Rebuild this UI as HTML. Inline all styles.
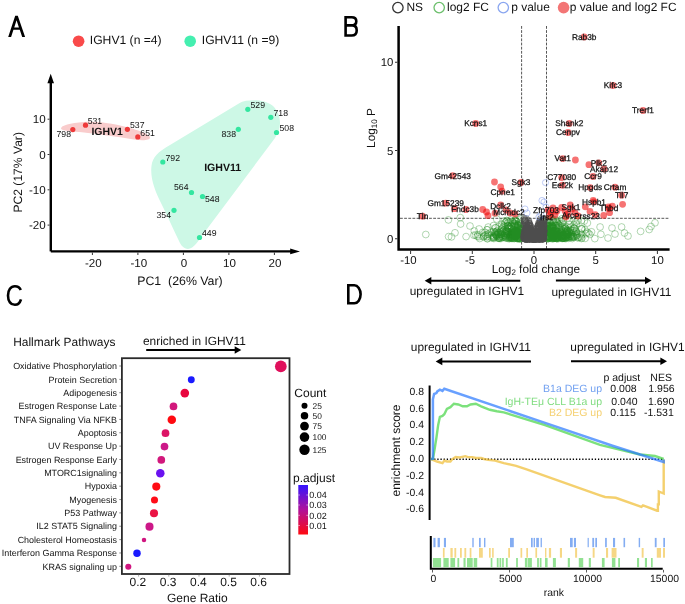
<!DOCTYPE html>
<html><head><meta charset="utf-8"><style>
html,body{margin:0;padding:0;background:#fff;}
svg{display:block;font-family:"Liberation Sans", sans-serif;will-change:transform;text-rendering:geometricPrecision;}
</style></head><body>
<svg width="685" height="604" viewBox="0 0 685 604">
<rect width="685" height="604" fill="#fff"/>
<path d="M8.2 36.9 L15.2 15.8 L17.8 15.8 L25.1 36.9 L22.2 36.9 L19.76 29.85 L13.44 29.85 L11.1 36.9 Z M14.22 27.5 L18.95 27.5 L16.55 20.3 Z" fill="#000" fill-rule="evenodd"/>
<path d="M345.6 17.3 H351.6 C354.9 17.3 356.3 19.1 356.3 21.3 C356.3 23.7 354.6 25.4 351.6 25.4 H345.6 M345.6 25.4 H352.2 C355.3 25.4 356.7 27.6 356.7 30.4 C356.7 33.5 354.8 35.5 351.6 35.5 H345.6 M345.6 16.0 V36.8" fill="none" stroke="#000" stroke-width="2.6"/>
<path d="M20.8 290.0 C19.6 287.4 17.4 286.3 14.9 286.3 C10.8 286.3 8.0 289.9 8.0 295.6 C8.0 301.3 10.8 304.8 14.9 304.8 C17.6 304.8 19.8 303.2 21.0 299.3" fill="none" stroke="#000" stroke-width="2.6"/>
<path d="M348.3 285.3 H354.3 A6.3 9 0 0 1 360.6 294.3 A6.3 9 0 0 1 354.3 303.3 H348.3 Z" fill="none" stroke="#000" stroke-width="2.6"/>
<circle cx="78.60" cy="41.20" r="5.8" fill="#f94a4a" stroke="none" stroke-width="1" />
<text x="89.8" y="44.3" font-size="12.15" text-anchor="start" fill="#111" font-weight="normal" >IGHV1 (n =4)</text>
<circle cx="190.20" cy="41.20" r="5.8" fill="#45efb0" stroke="none" stroke-width="1" />
<text x="201.8" y="44.3" font-size="12.1" text-anchor="start" fill="#111" font-weight="normal" >IGHV11 (n =9)</text>
<path d="M61 128.5 C61 125.5 70 123 84 122 C100 121 118 124.5 132 128.5 C142 131.5 150 134.5 150 137.8 C150 140.5 142 140.8 134 139.5 C118 137 100 134 84 132.5 C72 131.3 61 131 61 128.5 Z" fill="#f9cccc"/>
<path d="M246 100.8 C256 99.5 266 100.5 272.4 105.6 C277 109.5 280 116 280 123 C280 129 277.5 134 275 138 L207 229 C200 238 196 246 190 248.6 C185 250 181 246 179 241 C174 231 168 217 161 203 C155 191 150 178 151.5 166 C152.5 157 158 152 170 145 L238 104 C241 102.3 243.5 101.2 246 100.8 Z" fill="#cdf8e6"/>
<g stroke="#000" stroke-width="2.4" fill="none">
<path d="M50.8 251.4 V80"/><path d="M50.8 251.4 H292"/>
</g>
<path d="M50.7 73.8 L47.4 83.2 L54.0 83.2 Z"/>
<path d="M300 251.4 L290.2 248.5 L290.2 254.3 Z"/>
<line x1="47.6" y1="119.2" x2="49.5" y2="119.2" stroke="#333" stroke-width="1" />
<text x="45.7" y="123.2" font-size="11.6" text-anchor="end" fill="#111" font-weight="normal" >10</text>
<line x1="47.6" y1="154.5" x2="49.5" y2="154.5" stroke="#333" stroke-width="1" />
<text x="45.7" y="158.5" font-size="11.6" text-anchor="end" fill="#111" font-weight="normal" >0</text>
<line x1="47.6" y1="189.8" x2="49.5" y2="189.8" stroke="#333" stroke-width="1" />
<text x="45.7" y="193.8" font-size="11.6" text-anchor="end" fill="#111" font-weight="normal" >-10</text>
<line x1="47.6" y1="225.1" x2="49.5" y2="225.1" stroke="#333" stroke-width="1" />
<text x="45.7" y="229.1" font-size="11.6" text-anchor="end" fill="#111" font-weight="normal" >-20</text>
<line x1="92.4" y1="252.5" x2="92.4" y2="255" stroke="#333" stroke-width="1" />
<text x="93.30000000000001" y="266.6" font-size="11.6" text-anchor="middle" fill="#111" font-weight="normal" >-20</text>
<line x1="137.9" y1="252.5" x2="137.9" y2="255" stroke="#333" stroke-width="1" />
<text x="138.8" y="266.6" font-size="11.6" text-anchor="middle" fill="#111" font-weight="normal" >-10</text>
<line x1="183.4" y1="252.5" x2="183.4" y2="255" stroke="#333" stroke-width="1" />
<text x="183.9" y="266.6" font-size="11.6" text-anchor="middle" fill="#111" font-weight="normal" >0</text>
<line x1="228.9" y1="252.5" x2="228.9" y2="255" stroke="#333" stroke-width="1" />
<text x="229.4" y="266.6" font-size="11.6" text-anchor="middle" fill="#111" font-weight="normal" >10</text>
<line x1="274.4" y1="252.5" x2="274.4" y2="255" stroke="#333" stroke-width="1" />
<text x="274.9" y="266.6" font-size="11.6" text-anchor="middle" fill="#111" font-weight="normal" >20</text>
<text x="137.2" y="285" font-size="12.35" text-anchor="start" fill="#111" font-weight="normal" >PC1&#160; (26% Var)</text>
<text x="22.5" y="172.3" font-size="12.1" text-anchor="middle" fill="#111" font-weight="normal" transform="rotate(-90 22.5 172.3)">PC2 (17% Var)</text>
<circle cx="72.80" cy="129.60" r="2.6" fill="#ee3a3a" stroke="none" stroke-width="1" />
<text x="71" y="136.5" font-size="8.7" text-anchor="end" fill="#111" font-weight="normal" >798</text>
<circle cx="85.50" cy="125.20" r="2.6" fill="#ee3a3a" stroke="none" stroke-width="1" />
<text x="87.7" y="124.3" font-size="8.7" text-anchor="start" fill="#111" font-weight="normal" >531</text>
<circle cx="127.40" cy="129.30" r="2.6" fill="#ee3a3a" stroke="none" stroke-width="1" />
<text x="130" y="128.1" font-size="8.7" text-anchor="start" fill="#111" font-weight="normal" >537</text>
<circle cx="137.80" cy="136.90" r="2.6" fill="#ee3a3a" stroke="none" stroke-width="1" />
<text x="140.3" y="135.70000000000002" font-size="8.7" text-anchor="start" fill="#111" font-weight="normal" >651</text>
<text x="91.4" y="134.7" font-size="10.5" text-anchor="start" fill="#111" font-weight="bold" >IGHV1</text>
<circle cx="247.80" cy="109.30" r="2.6" fill="#33e6a0" stroke="none" stroke-width="1" />
<text x="250.5" y="107.8" font-size="8.7" text-anchor="start" fill="#111" font-weight="normal" >529</text>
<circle cx="270.80" cy="117.30" r="2.6" fill="#33e6a0" stroke="none" stroke-width="1" />
<text x="273.5" y="115.8" font-size="8.7" text-anchor="start" fill="#111" font-weight="normal" >718</text>
<circle cx="276.50" cy="132.50" r="2.6" fill="#33e6a0" stroke="none" stroke-width="1" />
<text x="279.5" y="130.8" font-size="8.7" text-anchor="start" fill="#111" font-weight="normal" >508</text>
<circle cx="238.30" cy="129.30" r="2.6" fill="#33e6a0" stroke="none" stroke-width="1" />
<text x="236" y="137.3" font-size="8.7" text-anchor="end" fill="#111" font-weight="normal" >838</text>
<circle cx="162.80" cy="162.00" r="2.6" fill="#33e6a0" stroke="none" stroke-width="1" />
<text x="165.5" y="160.8" font-size="8.7" text-anchor="start" fill="#111" font-weight="normal" >792</text>
<circle cx="191.50" cy="192.50" r="2.6" fill="#33e6a0" stroke="none" stroke-width="1" />
<text x="188.5" y="190.3" font-size="8.7" text-anchor="end" fill="#111" font-weight="normal" >564</text>
<circle cx="202.50" cy="196.50" r="2.6" fill="#33e6a0" stroke="none" stroke-width="1" />
<text x="205" y="201.8" font-size="8.7" text-anchor="start" fill="#111" font-weight="normal" >548</text>
<circle cx="174.00" cy="210.30" r="2.6" fill="#33e6a0" stroke="none" stroke-width="1" />
<text x="171" y="217.8" font-size="8.7" text-anchor="end" fill="#111" font-weight="normal" >354</text>
<circle cx="199.50" cy="237.50" r="2.6" fill="#33e6a0" stroke="none" stroke-width="1" />
<text x="202" y="235.8" font-size="8.7" text-anchor="start" fill="#111" font-weight="normal" >449</text>
<text x="222.7" y="171" font-size="10.6" text-anchor="middle" fill="#111" font-weight="bold" >IGHV11</text>
<circle cx="397.90" cy="7.60" r="5.2" fill="none" stroke="#333" stroke-width="1.3" />
<text x="406.4" y="10.6" font-size="11.95" text-anchor="start" fill="#111" font-weight="normal" >NS</text>
<circle cx="439.20" cy="7.60" r="5.2" fill="none" stroke="#6cbf6c" stroke-width="1.3" />
<text x="447.0" y="10.6" font-size="11.95" text-anchor="start" fill="#111" font-weight="normal" >log2 FC</text>
<circle cx="503.30" cy="7.60" r="5.2" fill="none" stroke="#8aa6f0" stroke-width="1.3" />
<text x="511.3" y="10.6" font-size="11.95" text-anchor="start" fill="#111" font-weight="normal" >p value</text>
<circle cx="563.60" cy="7.60" r="5.8" fill="#f37575" stroke="none" stroke-width="1" />
<text x="569.7" y="10.6" font-size="11.95" text-anchor="start" fill="#111" font-weight="normal" >p value and log2 FC</text>
<g stroke="#444" stroke-width="0.9" stroke-dasharray="2.8 1.35" fill="none">
<path d="M521.6 26 V249"/><path d="M546.5 26 V249"/><path d="M400 218.3 H669.6"/>
</g>
<g fill="none" stroke="#228b22" stroke-opacity="0.7" stroke-width="0.5">
<circle cx="425.8" cy="234.5" r="3.4"/>
<circle cx="448.4" cy="219.9" r="3.4"/>
<circle cx="460.3" cy="217.6" r="3.4"/>
<circle cx="460.6" cy="224.0" r="3.4"/>
<circle cx="448.6" cy="236.6" r="3.4"/>
<circle cx="451.5" cy="236.9" r="3.4"/>
<circle cx="455.0" cy="232.8" r="3.4"/>
<circle cx="466.1" cy="236.6" r="3.4"/>
<circle cx="474.3" cy="231.0" r="3.4"/>
<circle cx="470.0" cy="226.0" r="3.4"/>
<circle cx="621.6" cy="227.0" r="3.4"/>
<circle cx="624.5" cy="233.0" r="3.4"/>
<circle cx="628.0" cy="236.0" r="3.4"/>
<circle cx="640.6" cy="231.4" r="3.4"/>
<circle cx="649.2" cy="229.5" r="3.4"/>
<circle cx="651.0" cy="226.5" r="3.4"/>
<circle cx="655.0" cy="222.8" r="3.4"/>
<circle cx="612.0" cy="228.0" r="3.4"/>
<circle cx="615.0" cy="234.0" r="3.4"/>
<circle cx="608.0" cy="238.0" r="3.4"/>
<circle cx="547.5" cy="237.2" r="3.4"/>
<circle cx="507.6" cy="225.9" r="3.4"/>
<circle cx="556.3" cy="234.9" r="3.4"/>
<circle cx="518.4" cy="232.6" r="3.4"/>
<circle cx="560.5" cy="232.3" r="3.4"/>
<circle cx="493.9" cy="236.8" r="3.4"/>
<circle cx="562.5" cy="236.8" r="3.4"/>
<circle cx="548.0" cy="231.2" r="3.4"/>
<circle cx="518.5" cy="237.6" r="3.4"/>
<circle cx="564.8" cy="231.8" r="3.4"/>
<circle cx="569.2" cy="231.5" r="3.4"/>
<circle cx="573.8" cy="230.6" r="3.4"/>
<circle cx="562.9" cy="235.7" r="3.4"/>
<circle cx="562.1" cy="218.7" r="3.4"/>
<circle cx="562.1" cy="223.1" r="3.4"/>
<circle cx="559.0" cy="238.0" r="3.4"/>
<circle cx="563.4" cy="235.5" r="3.4"/>
<circle cx="517.2" cy="234.5" r="3.4"/>
<circle cx="502.9" cy="230.8" r="3.4"/>
<circle cx="557.1" cy="237.4" r="3.4"/>
<circle cx="512.8" cy="237.1" r="3.4"/>
<circle cx="552.4" cy="232.3" r="3.4"/>
<circle cx="561.9" cy="235.2" r="3.4"/>
<circle cx="562.3" cy="233.1" r="3.4"/>
<circle cx="508.4" cy="228.4" r="3.4"/>
<circle cx="550.0" cy="226.2" r="3.4"/>
<circle cx="556.3" cy="234.1" r="3.4"/>
<circle cx="497.9" cy="233.7" r="3.4"/>
<circle cx="491.1" cy="232.2" r="3.4"/>
<circle cx="515.1" cy="232.2" r="3.4"/>
<circle cx="491.4" cy="235.3" r="3.4"/>
<circle cx="553.3" cy="238.3" r="3.4"/>
<circle cx="488.2" cy="227.1" r="3.4"/>
<circle cx="504.5" cy="235.5" r="3.4"/>
<circle cx="513.3" cy="230.8" r="3.4"/>
<circle cx="509.9" cy="234.3" r="3.4"/>
<circle cx="565.5" cy="232.2" r="3.4"/>
<circle cx="552.4" cy="234.3" r="3.4"/>
<circle cx="581.8" cy="229.1" r="3.4"/>
<circle cx="504.2" cy="221.0" r="3.4"/>
<circle cx="499.6" cy="236.5" r="3.4"/>
<circle cx="552.5" cy="226.6" r="3.4"/>
<circle cx="491.4" cy="237.8" r="3.4"/>
<circle cx="515.0" cy="224.9" r="3.4"/>
<circle cx="552.8" cy="238.7" r="3.4"/>
<circle cx="552.2" cy="235.3" r="3.4"/>
<circle cx="576.4" cy="223.8" r="3.4"/>
<circle cx="551.6" cy="234.3" r="3.4"/>
<circle cx="516.2" cy="238.3" r="3.4"/>
<circle cx="556.5" cy="238.5" r="3.4"/>
<circle cx="548.9" cy="232.7" r="3.4"/>
<circle cx="588.4" cy="233.1" r="3.4"/>
<circle cx="510.0" cy="236.7" r="3.4"/>
<circle cx="520.3" cy="218.7" r="3.4"/>
<circle cx="580.9" cy="236.8" r="3.4"/>
<circle cx="516.8" cy="233.1" r="3.4"/>
<circle cx="573.2" cy="236.8" r="3.4"/>
<circle cx="561.3" cy="235.4" r="3.4"/>
<circle cx="557.3" cy="237.5" r="3.4"/>
<circle cx="509.1" cy="228.2" r="3.4"/>
<circle cx="555.7" cy="238.0" r="3.4"/>
<circle cx="552.2" cy="227.8" r="3.4"/>
<circle cx="546.9" cy="236.4" r="3.4"/>
<circle cx="514.5" cy="234.6" r="3.4"/>
<circle cx="501.2" cy="229.2" r="3.4"/>
<circle cx="555.6" cy="236.5" r="3.4"/>
<circle cx="514.9" cy="235.6" r="3.4"/>
<circle cx="562.7" cy="235.9" r="3.4"/>
<circle cx="519.8" cy="229.7" r="3.4"/>
<circle cx="586.1" cy="233.6" r="3.4"/>
<circle cx="567.0" cy="232.1" r="3.4"/>
<circle cx="519.7" cy="236.2" r="3.4"/>
<circle cx="569.4" cy="236.3" r="3.4"/>
<circle cx="560.8" cy="236.9" r="3.4"/>
<circle cx="585.1" cy="238.4" r="3.4"/>
<circle cx="495.4" cy="233.3" r="3.4"/>
<circle cx="520.4" cy="231.6" r="3.4"/>
<circle cx="521.5" cy="229.3" r="3.4"/>
<circle cx="517.9" cy="225.3" r="3.4"/>
<circle cx="508.5" cy="222.3" r="3.4"/>
<circle cx="551.3" cy="237.2" r="3.4"/>
<circle cx="567.3" cy="230.5" r="3.4"/>
<circle cx="557.2" cy="225.7" r="3.4"/>
<circle cx="496.8" cy="236.4" r="3.4"/>
<circle cx="518.8" cy="231.1" r="3.4"/>
<circle cx="505.9" cy="231.2" r="3.4"/>
<circle cx="514.5" cy="220.5" r="3.4"/>
<circle cx="559.1" cy="233.7" r="3.4"/>
<circle cx="518.3" cy="224.6" r="3.4"/>
<circle cx="576.3" cy="231.3" r="3.4"/>
<circle cx="554.7" cy="231.8" r="3.4"/>
<circle cx="518.6" cy="237.4" r="3.4"/>
<circle cx="561.7" cy="232.2" r="3.4"/>
<circle cx="562.7" cy="237.9" r="3.4"/>
<circle cx="546.7" cy="228.4" r="3.4"/>
<circle cx="552.5" cy="238.2" r="3.4"/>
<circle cx="500.8" cy="234.1" r="3.4"/>
<circle cx="548.6" cy="226.7" r="3.4"/>
<circle cx="552.8" cy="238.4" r="3.4"/>
<circle cx="579.3" cy="237.4" r="3.4"/>
<circle cx="519.8" cy="233.9" r="3.4"/>
<circle cx="570.6" cy="227.1" r="3.4"/>
<circle cx="550.4" cy="231.7" r="3.4"/>
<circle cx="548.8" cy="230.4" r="3.4"/>
<circle cx="555.3" cy="229.5" r="3.4"/>
<circle cx="552.5" cy="228.3" r="3.4"/>
<circle cx="553.0" cy="219.6" r="3.4"/>
<circle cx="512.3" cy="233.3" r="3.4"/>
<circle cx="501.5" cy="234.5" r="3.4"/>
<circle cx="559.9" cy="225.3" r="3.4"/>
<circle cx="553.5" cy="237.0" r="3.4"/>
<circle cx="548.4" cy="233.2" r="3.4"/>
<circle cx="515.5" cy="236.7" r="3.4"/>
<circle cx="495.2" cy="234.5" r="3.4"/>
<circle cx="563.7" cy="234.8" r="3.4"/>
<circle cx="548.6" cy="235.9" r="3.4"/>
<circle cx="547.6" cy="236.1" r="3.4"/>
<circle cx="495.7" cy="227.7" r="3.4"/>
<circle cx="564.5" cy="236.0" r="3.4"/>
<circle cx="552.8" cy="225.9" r="3.4"/>
<circle cx="487.6" cy="238.6" r="3.4"/>
<circle cx="553.1" cy="238.0" r="3.4"/>
<circle cx="548.2" cy="225.8" r="3.4"/>
<circle cx="521.1" cy="232.3" r="3.4"/>
<circle cx="554.3" cy="236.3" r="3.4"/>
<circle cx="555.0" cy="231.8" r="3.4"/>
<circle cx="556.2" cy="236.1" r="3.4"/>
<circle cx="559.5" cy="227.3" r="3.4"/>
<circle cx="550.8" cy="227.7" r="3.4"/>
<circle cx="516.3" cy="221.0" r="3.4"/>
<circle cx="551.7" cy="235.0" r="3.4"/>
<circle cx="564.1" cy="231.4" r="3.4"/>
<circle cx="555.2" cy="235.6" r="3.4"/>
<circle cx="479.1" cy="229.0" r="3.4"/>
<circle cx="547.2" cy="228.4" r="3.4"/>
<circle cx="507.1" cy="220.9" r="3.4"/>
<circle cx="487.4" cy="236.4" r="3.4"/>
<circle cx="514.6" cy="238.2" r="3.4"/>
<circle cx="519.7" cy="232.7" r="3.4"/>
<circle cx="546.9" cy="235.9" r="3.4"/>
<circle cx="552.4" cy="233.1" r="3.4"/>
<circle cx="550.0" cy="236.3" r="3.4"/>
<circle cx="561.7" cy="237.9" r="3.4"/>
<circle cx="521.7" cy="237.3" r="3.4"/>
<circle cx="553.0" cy="231.0" r="3.4"/>
<circle cx="507.9" cy="228.1" r="3.4"/>
<circle cx="555.3" cy="234.8" r="3.4"/>
<circle cx="554.3" cy="238.3" r="3.4"/>
<circle cx="505.3" cy="233.2" r="3.4"/>
<circle cx="548.7" cy="238.5" r="3.4"/>
<circle cx="507.9" cy="231.4" r="3.4"/>
<circle cx="571.3" cy="236.1" r="3.4"/>
<circle cx="555.5" cy="225.7" r="3.4"/>
<circle cx="513.0" cy="234.1" r="3.4"/>
<circle cx="512.4" cy="234.0" r="3.4"/>
<circle cx="574.1" cy="220.1" r="3.4"/>
<circle cx="499.1" cy="238.4" r="3.4"/>
<circle cx="566.0" cy="237.5" r="3.4"/>
<circle cx="515.5" cy="234.8" r="3.4"/>
<circle cx="548.5" cy="228.7" r="3.4"/>
<circle cx="513.2" cy="236.3" r="3.4"/>
<circle cx="502.7" cy="231.7" r="3.4"/>
<circle cx="514.3" cy="223.1" r="3.4"/>
<circle cx="551.2" cy="219.6" r="3.4"/>
<circle cx="520.7" cy="228.3" r="3.4"/>
<circle cx="565.6" cy="228.5" r="3.4"/>
<circle cx="573.2" cy="237.2" r="3.4"/>
<circle cx="515.9" cy="231.4" r="3.4"/>
<circle cx="516.6" cy="234.7" r="3.4"/>
<circle cx="569.0" cy="232.0" r="3.4"/>
<circle cx="550.3" cy="235.3" r="3.4"/>
<circle cx="557.3" cy="237.6" r="3.4"/>
<circle cx="561.0" cy="237.7" r="3.4"/>
<circle cx="554.2" cy="233.4" r="3.4"/>
<circle cx="509.5" cy="237.2" r="3.4"/>
<circle cx="563.1" cy="238.3" r="3.4"/>
<circle cx="501.5" cy="236.2" r="3.4"/>
<circle cx="495.5" cy="234.4" r="3.4"/>
<circle cx="517.9" cy="227.6" r="3.4"/>
<circle cx="551.2" cy="226.2" r="3.4"/>
<circle cx="556.3" cy="231.4" r="3.4"/>
<circle cx="500.1" cy="233.9" r="3.4"/>
<circle cx="504.9" cy="223.1" r="3.4"/>
<circle cx="511.0" cy="236.4" r="3.4"/>
<circle cx="556.4" cy="236.9" r="3.4"/>
<circle cx="513.2" cy="229.9" r="3.4"/>
<circle cx="564.4" cy="238.3" r="3.4"/>
<circle cx="551.1" cy="227.2" r="3.4"/>
<circle cx="510.1" cy="234.6" r="3.4"/>
<circle cx="519.9" cy="222.6" r="3.4"/>
<circle cx="570.1" cy="235.8" r="3.4"/>
<circle cx="510.7" cy="226.0" r="3.4"/>
<circle cx="508.5" cy="231.8" r="3.4"/>
<circle cx="555.3" cy="224.5" r="3.4"/>
<circle cx="573.3" cy="236.2" r="3.4"/>
<circle cx="565.3" cy="232.8" r="3.4"/>
<circle cx="547.9" cy="238.6" r="3.4"/>
<circle cx="547.1" cy="231.4" r="3.4"/>
<circle cx="552.7" cy="235.9" r="3.4"/>
<circle cx="557.7" cy="236.5" r="3.4"/>
<circle cx="513.5" cy="236.1" r="3.4"/>
<circle cx="548.5" cy="238.0" r="3.4"/>
<circle cx="546.8" cy="232.9" r="3.4"/>
<circle cx="575.5" cy="234.0" r="3.4"/>
<circle cx="513.7" cy="238.2" r="3.4"/>
<circle cx="504.0" cy="230.1" r="3.4"/>
<circle cx="584.3" cy="221.1" r="3.4"/>
<circle cx="557.4" cy="222.9" r="3.4"/>
<circle cx="520.7" cy="238.5" r="3.4"/>
<circle cx="552.2" cy="226.4" r="3.4"/>
<circle cx="558.1" cy="238.7" r="3.4"/>
<circle cx="547.5" cy="238.7" r="3.4"/>
<circle cx="586.9" cy="232.1" r="3.4"/>
<circle cx="548.1" cy="227.0" r="3.4"/>
<circle cx="498.4" cy="234.3" r="3.4"/>
<circle cx="547.3" cy="225.9" r="3.4"/>
<circle cx="576.7" cy="234.2" r="3.4"/>
<circle cx="565.3" cy="228.0" r="3.4"/>
<circle cx="581.4" cy="238.5" r="3.4"/>
<circle cx="520.3" cy="234.4" r="3.4"/>
<circle cx="512.5" cy="224.1" r="3.4"/>
<circle cx="557.1" cy="234.7" r="3.4"/>
<circle cx="520.9" cy="235.9" r="3.4"/>
<circle cx="516.0" cy="236.7" r="3.4"/>
<circle cx="564.6" cy="226.8" r="3.4"/>
<circle cx="502.8" cy="237.0" r="3.4"/>
<circle cx="520.5" cy="238.7" r="3.4"/>
<circle cx="552.5" cy="232.6" r="3.4"/>
<circle cx="518.4" cy="232.0" r="3.4"/>
<circle cx="548.0" cy="220.0" r="3.4"/>
<circle cx="518.4" cy="237.7" r="3.4"/>
<circle cx="483.9" cy="236.6" r="3.4"/>
<circle cx="557.5" cy="234.1" r="3.4"/>
<circle cx="521.0" cy="235.9" r="3.4"/>
<circle cx="510.8" cy="235.3" r="3.4"/>
<circle cx="486.9" cy="237.0" r="3.4"/>
<circle cx="493.4" cy="237.3" r="3.4"/>
<circle cx="584.9" cy="229.9" r="3.4"/>
<circle cx="511.6" cy="236.6" r="3.4"/>
<circle cx="555.5" cy="230.3" r="3.4"/>
<circle cx="566.4" cy="230.0" r="3.4"/>
<circle cx="506.4" cy="232.5" r="3.4"/>
<circle cx="551.3" cy="233.4" r="3.4"/>
<circle cx="505.8" cy="229.1" r="3.4"/>
<circle cx="515.4" cy="236.4" r="3.4"/>
<circle cx="511.3" cy="232.4" r="3.4"/>
<circle cx="517.4" cy="238.5" r="3.4"/>
<circle cx="517.6" cy="230.8" r="3.4"/>
<circle cx="517.1" cy="230.8" r="3.4"/>
<circle cx="547.3" cy="226.9" r="3.4"/>
<circle cx="566.6" cy="234.2" r="3.4"/>
<circle cx="559.1" cy="236.4" r="3.4"/>
<circle cx="507.6" cy="223.1" r="3.4"/>
<circle cx="574.1" cy="227.8" r="3.4"/>
<circle cx="551.3" cy="236.2" r="3.4"/>
<circle cx="511.8" cy="232.0" r="3.4"/>
<circle cx="564.5" cy="238.1" r="3.4"/>
<circle cx="498.3" cy="232.8" r="3.4"/>
<circle cx="521.1" cy="236.3" r="3.4"/>
<circle cx="547.1" cy="225.7" r="3.4"/>
<circle cx="493.6" cy="231.7" r="3.4"/>
<circle cx="566.0" cy="237.3" r="3.4"/>
<circle cx="512.5" cy="234.7" r="3.4"/>
<circle cx="509.5" cy="222.9" r="3.4"/>
<circle cx="569.6" cy="237.6" r="3.4"/>
<circle cx="553.5" cy="222.1" r="3.4"/>
<circle cx="499.5" cy="238.1" r="3.4"/>
<circle cx="563.3" cy="220.3" r="3.4"/>
<circle cx="519.8" cy="229.0" r="3.4"/>
<circle cx="549.9" cy="230.0" r="3.4"/>
<circle cx="562.9" cy="228.3" r="3.4"/>
<circle cx="511.3" cy="237.5" r="3.4"/>
<circle cx="572.3" cy="230.4" r="3.4"/>
<circle cx="568.2" cy="234.8" r="3.4"/>
<circle cx="557.3" cy="228.4" r="3.4"/>
<circle cx="600.1" cy="227.0" r="3.4"/>
<circle cx="548.3" cy="234.1" r="3.4"/>
<circle cx="552.5" cy="233.9" r="3.4"/>
<circle cx="558.3" cy="223.6" r="3.4"/>
<circle cx="513.9" cy="232.5" r="3.4"/>
<circle cx="514.8" cy="236.4" r="3.4"/>
<circle cx="561.7" cy="231.1" r="3.4"/>
<circle cx="576.8" cy="235.8" r="3.4"/>
<circle cx="553.8" cy="233.4" r="3.4"/>
<circle cx="506.9" cy="230.6" r="3.4"/>
<circle cx="557.1" cy="233.5" r="3.4"/>
<circle cx="554.7" cy="235.8" r="3.4"/>
<circle cx="484.0" cy="235.7" r="3.4"/>
<circle cx="553.5" cy="228.3" r="3.4"/>
<circle cx="519.7" cy="234.1" r="3.4"/>
<circle cx="565.0" cy="236.2" r="3.4"/>
<circle cx="567.9" cy="233.9" r="3.4"/>
<circle cx="512.2" cy="222.0" r="3.4"/>
<circle cx="567.6" cy="230.9" r="3.4"/>
<circle cx="520.3" cy="227.4" r="3.4"/>
<circle cx="549.8" cy="229.0" r="3.4"/>
<circle cx="572.3" cy="238.5" r="3.4"/>
<circle cx="517.7" cy="234.8" r="3.4"/>
<circle cx="516.0" cy="233.2" r="3.4"/>
<circle cx="521.0" cy="230.5" r="3.4"/>
<circle cx="600.9" cy="234.3" r="3.4"/>
<circle cx="548.8" cy="228.1" r="3.4"/>
<circle cx="556.0" cy="234.2" r="3.4"/>
<circle cx="554.1" cy="237.4" r="3.4"/>
<circle cx="506.0" cy="238.0" r="3.4"/>
<circle cx="555.8" cy="237.1" r="3.4"/>
<circle cx="516.1" cy="226.8" r="3.4"/>
<circle cx="509.7" cy="236.2" r="3.4"/>
<circle cx="547.1" cy="225.5" r="3.4"/>
<circle cx="501.6" cy="237.6" r="3.4"/>
<circle cx="567.0" cy="218.8" r="3.4"/>
<circle cx="493.9" cy="238.5" r="3.4"/>
<circle cx="518.1" cy="232.0" r="3.4"/>
<circle cx="555.5" cy="237.7" r="3.4"/>
<circle cx="516.3" cy="232.5" r="3.4"/>
<circle cx="553.8" cy="237.5" r="3.4"/>
<circle cx="553.7" cy="237.9" r="3.4"/>
<circle cx="516.0" cy="225.5" r="3.4"/>
<circle cx="556.3" cy="238.3" r="3.4"/>
<circle cx="557.2" cy="231.5" r="3.4"/>
<circle cx="493.2" cy="237.8" r="3.4"/>
<circle cx="559.9" cy="234.1" r="3.4"/>
<circle cx="506.1" cy="234.0" r="3.4"/>
<circle cx="546.4" cy="223.7" r="3.4"/>
<circle cx="500.1" cy="237.2" r="3.4"/>
<circle cx="507.9" cy="238.3" r="3.4"/>
<circle cx="501.2" cy="234.0" r="3.4"/>
<circle cx="548.8" cy="237.7" r="3.4"/>
<circle cx="550.8" cy="232.8" r="3.4"/>
<circle cx="496.9" cy="231.3" r="3.4"/>
<circle cx="487.3" cy="234.3" r="3.4"/>
<circle cx="567.7" cy="236.1" r="3.4"/>
<circle cx="518.6" cy="233.0" r="3.4"/>
<circle cx="550.9" cy="234.8" r="3.4"/>
<circle cx="512.6" cy="238.3" r="3.4"/>
<circle cx="507.2" cy="234.2" r="3.4"/>
<circle cx="521.0" cy="232.9" r="3.4"/>
<circle cx="547.5" cy="236.4" r="3.4"/>
<circle cx="509.0" cy="238.7" r="3.4"/>
<circle cx="487.2" cy="238.7" r="3.4"/>
<circle cx="565.1" cy="230.8" r="3.4"/>
<circle cx="554.0" cy="230.7" r="3.4"/>
<circle cx="521.6" cy="230.5" r="3.4"/>
<circle cx="547.4" cy="230.9" r="3.4"/>
<circle cx="557.2" cy="232.3" r="3.4"/>
<circle cx="547.7" cy="236.0" r="3.4"/>
<circle cx="512.2" cy="221.4" r="3.4"/>
<circle cx="519.5" cy="228.7" r="3.4"/>
<circle cx="587.4" cy="223.0" r="3.4"/>
<circle cx="565.8" cy="235.2" r="3.4"/>
<circle cx="517.6" cy="225.0" r="3.4"/>
<circle cx="570.4" cy="229.7" r="3.4"/>
<circle cx="568.4" cy="238.3" r="3.4"/>
<circle cx="546.8" cy="230.1" r="3.4"/>
<circle cx="487.2" cy="229.8" r="3.4"/>
<circle cx="518.1" cy="238.6" r="3.4"/>
<circle cx="567.1" cy="231.1" r="3.4"/>
<circle cx="519.5" cy="238.7" r="3.4"/>
<circle cx="511.6" cy="228.7" r="3.4"/>
<circle cx="581.9" cy="238.1" r="3.4"/>
<circle cx="511.2" cy="226.5" r="3.4"/>
<circle cx="517.1" cy="233.7" r="3.4"/>
<circle cx="550.3" cy="237.6" r="3.4"/>
<circle cx="519.0" cy="238.1" r="3.4"/>
<circle cx="565.8" cy="237.7" r="3.4"/>
<circle cx="550.1" cy="231.7" r="3.4"/>
<circle cx="506.4" cy="237.7" r="3.4"/>
<circle cx="546.6" cy="231.5" r="3.4"/>
<circle cx="547.1" cy="234.0" r="3.4"/>
<circle cx="493.8" cy="237.6" r="3.4"/>
<circle cx="551.1" cy="238.5" r="3.4"/>
<circle cx="516.6" cy="233.8" r="3.4"/>
<circle cx="556.5" cy="232.7" r="3.4"/>
<circle cx="514.1" cy="225.4" r="3.4"/>
<circle cx="562.1" cy="237.1" r="3.4"/>
<circle cx="555.8" cy="231.0" r="3.4"/>
<circle cx="553.0" cy="237.2" r="3.4"/>
<circle cx="517.1" cy="232.3" r="3.4"/>
<circle cx="557.4" cy="234.4" r="3.4"/>
<circle cx="496.9" cy="234.8" r="3.4"/>
<circle cx="515.3" cy="231.0" r="3.4"/>
<circle cx="473.8" cy="235.2" r="3.4"/>
<circle cx="519.1" cy="236.1" r="3.4"/>
<circle cx="506.0" cy="236.1" r="3.4"/>
<circle cx="571.1" cy="234.6" r="3.4"/>
<circle cx="549.8" cy="227.6" r="3.4"/>
<circle cx="506.7" cy="231.5" r="3.4"/>
<circle cx="580.8" cy="233.4" r="3.4"/>
<circle cx="518.4" cy="226.4" r="3.4"/>
<circle cx="548.8" cy="222.2" r="3.4"/>
<circle cx="566.6" cy="231.3" r="3.4"/>
<circle cx="515.6" cy="237.3" r="3.4"/>
<circle cx="569.0" cy="224.3" r="3.4"/>
<circle cx="564.9" cy="236.6" r="3.4"/>
<circle cx="555.8" cy="236.8" r="3.4"/>
<circle cx="505.1" cy="237.6" r="3.4"/>
<circle cx="563.3" cy="234.8" r="3.4"/>
<circle cx="516.4" cy="221.5" r="3.4"/>
<circle cx="517.2" cy="236.2" r="3.4"/>
<circle cx="560.6" cy="236.2" r="3.4"/>
<circle cx="549.9" cy="237.5" r="3.4"/>
<circle cx="516.8" cy="235.8" r="3.4"/>
<circle cx="559.4" cy="220.5" r="3.4"/>
<circle cx="556.9" cy="221.7" r="3.4"/>
<circle cx="570.1" cy="230.5" r="3.4"/>
<circle cx="500.2" cy="232.0" r="3.4"/>
<circle cx="508.0" cy="225.6" r="3.4"/>
<circle cx="493.1" cy="236.1" r="3.4"/>
<circle cx="581.8" cy="234.8" r="3.4"/>
<circle cx="551.0" cy="225.1" r="3.4"/>
<circle cx="557.6" cy="234.7" r="3.4"/>
<circle cx="482.6" cy="232.5" r="3.4"/>
<circle cx="515.7" cy="236.4" r="3.4"/>
<circle cx="563.4" cy="238.1" r="3.4"/>
<circle cx="552.5" cy="220.6" r="3.4"/>
<circle cx="563.6" cy="238.1" r="3.4"/>
<circle cx="517.2" cy="225.2" r="3.4"/>
<circle cx="495.0" cy="232.3" r="3.4"/>
<circle cx="557.4" cy="236.9" r="3.4"/>
<circle cx="514.1" cy="232.7" r="3.4"/>
<circle cx="565.9" cy="234.0" r="3.4"/>
<circle cx="552.6" cy="228.1" r="3.4"/>
<circle cx="565.8" cy="238.6" r="3.4"/>
<circle cx="494.8" cy="232.8" r="3.4"/>
<circle cx="506.3" cy="230.4" r="3.4"/>
<circle cx="516.3" cy="230.4" r="3.4"/>
<circle cx="479.7" cy="238.5" r="3.4"/>
<circle cx="562.1" cy="238.5" r="3.4"/>
<circle cx="573.8" cy="228.5" r="3.4"/>
<circle cx="505.8" cy="226.3" r="3.4"/>
<circle cx="549.9" cy="222.9" r="3.4"/>
<circle cx="517.7" cy="235.0" r="3.4"/>
<circle cx="570.9" cy="236.1" r="3.4"/>
<circle cx="511.3" cy="235.1" r="3.4"/>
<circle cx="520.5" cy="228.8" r="3.4"/>
<circle cx="518.8" cy="219.9" r="3.4"/>
<circle cx="558.7" cy="225.2" r="3.4"/>
<circle cx="547.8" cy="229.4" r="3.4"/>
<circle cx="560.2" cy="236.2" r="3.4"/>
<circle cx="552.2" cy="235.2" r="3.4"/>
<circle cx="502.0" cy="225.0" r="3.4"/>
<circle cx="517.9" cy="236.6" r="3.4"/>
<circle cx="477.8" cy="234.7" r="3.4"/>
<circle cx="567.5" cy="234.9" r="3.4"/>
<circle cx="589.8" cy="234.4" r="3.4"/>
<circle cx="499.1" cy="237.5" r="3.4"/>
<circle cx="497.5" cy="235.1" r="3.4"/>
<circle cx="513.6" cy="235.8" r="3.4"/>
<circle cx="504.4" cy="233.0" r="3.4"/>
<circle cx="514.3" cy="223.7" r="3.4"/>
<circle cx="559.3" cy="234.5" r="3.4"/>
<circle cx="577.9" cy="237.4" r="3.4"/>
<circle cx="553.1" cy="236.7" r="3.4"/>
<circle cx="496.0" cy="235.1" r="3.4"/>
<circle cx="483.2" cy="236.9" r="3.4"/>
<circle cx="555.4" cy="219.9" r="3.4"/>
<circle cx="558.5" cy="227.3" r="3.4"/>
<circle cx="556.6" cy="234.6" r="3.4"/>
<circle cx="546.4" cy="235.0" r="3.4"/>
<circle cx="551.6" cy="237.0" r="3.4"/>
<circle cx="552.9" cy="231.9" r="3.4"/>
<circle cx="552.4" cy="231.3" r="3.4"/>
<circle cx="547.4" cy="238.0" r="3.4"/>
<circle cx="568.0" cy="232.6" r="3.4"/>
<circle cx="550.4" cy="231.3" r="3.4"/>
<circle cx="505.6" cy="222.2" r="3.4"/>
<circle cx="512.2" cy="238.3" r="3.4"/>
<circle cx="519.2" cy="238.6" r="3.4"/>
<circle cx="572.0" cy="232.6" r="3.4"/>
<circle cx="520.1" cy="237.0" r="3.4"/>
<circle cx="514.2" cy="238.6" r="3.4"/>
<circle cx="563.9" cy="234.7" r="3.4"/>
<circle cx="504.2" cy="235.4" r="3.4"/>
<circle cx="506.2" cy="231.1" r="3.4"/>
<circle cx="569.1" cy="234.0" r="3.4"/>
<circle cx="510.8" cy="235.2" r="3.4"/>
<circle cx="560.9" cy="237.2" r="3.4"/>
<circle cx="498.4" cy="232.5" r="3.4"/>
<circle cx="551.7" cy="237.1" r="3.4"/>
<circle cx="518.4" cy="231.0" r="3.4"/>
<circle cx="562.7" cy="235.8" r="3.4"/>
<circle cx="577.8" cy="237.9" r="3.4"/>
<circle cx="515.6" cy="231.5" r="3.4"/>
<circle cx="485.2" cy="232.4" r="3.4"/>
<circle cx="516.9" cy="231.2" r="3.4"/>
<circle cx="517.7" cy="237.9" r="3.4"/>
<circle cx="516.3" cy="232.7" r="3.4"/>
<circle cx="556.9" cy="238.0" r="3.4"/>
<circle cx="519.0" cy="223.2" r="3.4"/>
<circle cx="511.2" cy="231.6" r="3.4"/>
<circle cx="557.6" cy="232.9" r="3.4"/>
<circle cx="574.1" cy="232.6" r="3.4"/>
<circle cx="574.0" cy="224.4" r="3.4"/>
<circle cx="581.8" cy="228.6" r="3.4"/>
<circle cx="501.4" cy="224.1" r="3.4"/>
<circle cx="521.2" cy="223.9" r="3.4"/>
<circle cx="559.6" cy="235.0" r="3.4"/>
<circle cx="562.3" cy="238.2" r="3.4"/>
<circle cx="521.2" cy="229.0" r="3.4"/>
<circle cx="581.4" cy="220.7" r="3.4"/>
<circle cx="572.9" cy="235.5" r="3.4"/>
<circle cx="547.0" cy="226.2" r="3.4"/>
<circle cx="558.9" cy="225.2" r="3.4"/>
<circle cx="506.7" cy="220.5" r="3.4"/>
<circle cx="487.1" cy="229.8" r="3.4"/>
<circle cx="512.2" cy="232.8" r="3.4"/>
<circle cx="518.9" cy="238.5" r="3.4"/>
<circle cx="547.4" cy="237.2" r="3.4"/>
<circle cx="519.1" cy="229.4" r="3.4"/>
<circle cx="501.2" cy="232.3" r="3.4"/>
<circle cx="549.8" cy="236.9" r="3.4"/>
<circle cx="507.7" cy="235.2" r="3.4"/>
<circle cx="576.7" cy="235.7" r="3.4"/>
<circle cx="493.5" cy="225.6" r="3.4"/>
<circle cx="496.3" cy="235.2" r="3.4"/>
<circle cx="559.8" cy="232.8" r="3.4"/>
<circle cx="576.0" cy="232.0" r="3.4"/>
<circle cx="498.8" cy="236.2" r="3.4"/>
<circle cx="561.0" cy="236.3" r="3.4"/>
<circle cx="553.2" cy="232.1" r="3.4"/>
<circle cx="563.3" cy="234.0" r="3.4"/>
<circle cx="520.8" cy="233.1" r="3.4"/>
<circle cx="504.0" cy="226.1" r="3.4"/>
<circle cx="547.4" cy="231.6" r="3.4"/>
<circle cx="494.5" cy="236.2" r="3.4"/>
<circle cx="515.0" cy="232.1" r="3.4"/>
<circle cx="547.7" cy="238.2" r="3.4"/>
<circle cx="568.2" cy="237.3" r="3.4"/>
<circle cx="517.7" cy="227.5" r="3.4"/>
<circle cx="515.3" cy="225.9" r="3.4"/>
<circle cx="513.8" cy="233.4" r="3.4"/>
<circle cx="507.0" cy="233.8" r="3.4"/>
<circle cx="549.2" cy="219.4" r="3.4"/>
<circle cx="567.0" cy="233.7" r="3.4"/>
<circle cx="549.8" cy="231.2" r="3.4"/>
<circle cx="550.4" cy="226.7" r="3.4"/>
<circle cx="508.4" cy="228.7" r="3.4"/>
<circle cx="551.9" cy="230.3" r="3.4"/>
<circle cx="566.6" cy="237.5" r="3.4"/>
<circle cx="557.0" cy="238.6" r="3.4"/>
<circle cx="553.3" cy="233.2" r="3.4"/>
<circle cx="576.2" cy="221.9" r="3.4"/>
<circle cx="567.0" cy="232.9" r="3.4"/>
<circle cx="547.4" cy="236.5" r="3.4"/>
<circle cx="546.6" cy="221.0" r="3.4"/>
<circle cx="511.8" cy="234.3" r="3.4"/>
<circle cx="546.6" cy="224.9" r="3.4"/>
<circle cx="511.3" cy="234.7" r="3.4"/>
<circle cx="512.1" cy="235.4" r="3.4"/>
<circle cx="518.2" cy="235.6" r="3.4"/>
<circle cx="518.4" cy="225.7" r="3.4"/>
<circle cx="510.5" cy="220.1" r="3.4"/>
<circle cx="571.5" cy="234.2" r="3.4"/>
<circle cx="517.1" cy="235.6" r="3.4"/>
<circle cx="502.8" cy="227.4" r="3.4"/>
<circle cx="564.0" cy="229.0" r="3.4"/>
<circle cx="505.1" cy="236.5" r="3.4"/>
<circle cx="546.5" cy="225.8" r="3.4"/>
<circle cx="475.4" cy="235.1" r="3.4"/>
<circle cx="519.3" cy="227.8" r="3.4"/>
<circle cx="556.3" cy="225.9" r="3.4"/>
<circle cx="563.7" cy="236.5" r="3.4"/>
<circle cx="478.8" cy="236.8" r="3.4"/>
<circle cx="560.6" cy="223.6" r="3.4"/>
<circle cx="515.6" cy="230.9" r="3.4"/>
<circle cx="498.5" cy="226.6" r="3.4"/>
<circle cx="519.5" cy="228.0" r="3.4"/>
<circle cx="558.6" cy="235.3" r="3.4"/>
<circle cx="562.4" cy="227.3" r="3.4"/>
<circle cx="550.5" cy="231.4" r="3.4"/>
<circle cx="509.1" cy="237.1" r="3.4"/>
<circle cx="501.8" cy="229.1" r="3.4"/>
<circle cx="501.6" cy="235.7" r="3.4"/>
<circle cx="512.8" cy="237.4" r="3.4"/>
<circle cx="515.1" cy="232.1" r="3.4"/>
<circle cx="485.5" cy="234.9" r="3.4"/>
<circle cx="511.4" cy="226.2" r="3.4"/>
<circle cx="550.2" cy="228.4" r="3.4"/>
<circle cx="519.1" cy="234.5" r="3.4"/>
<circle cx="496.3" cy="235.9" r="3.4"/>
<circle cx="517.1" cy="238.5" r="3.4"/>
<circle cx="554.8" cy="234.6" r="3.4"/>
<circle cx="574.6" cy="236.2" r="3.4"/>
<circle cx="567.0" cy="226.9" r="3.4"/>
<circle cx="553.7" cy="236.0" r="3.4"/>
<circle cx="500.8" cy="238.5" r="3.4"/>
<circle cx="551.9" cy="236.7" r="3.4"/>
<circle cx="495.2" cy="228.0" r="3.4"/>
<circle cx="515.4" cy="220.2" r="3.4"/>
<circle cx="558.0" cy="235.4" r="3.4"/>
<circle cx="497.1" cy="231.3" r="3.4"/>
<circle cx="548.1" cy="230.5" r="3.4"/>
<circle cx="549.3" cy="236.5" r="3.4"/>
<circle cx="553.2" cy="233.6" r="3.4"/>
<circle cx="551.0" cy="228.8" r="3.4"/>
<circle cx="551.8" cy="227.9" r="3.4"/>
<circle cx="577.7" cy="220.6" r="3.4"/>
<circle cx="554.3" cy="236.5" r="3.4"/>
<circle cx="548.6" cy="231.0" r="3.4"/>
<circle cx="511.3" cy="237.9" r="3.4"/>
<circle cx="499.2" cy="238.2" r="3.4"/>
<circle cx="508.7" cy="237.8" r="3.4"/>
<circle cx="567.1" cy="237.0" r="3.4"/>
<circle cx="565.7" cy="228.3" r="3.4"/>
<circle cx="555.8" cy="235.7" r="3.4"/>
<circle cx="515.2" cy="234.8" r="3.4"/>
<circle cx="552.0" cy="236.1" r="3.4"/>
<circle cx="552.5" cy="230.8" r="3.4"/>
<circle cx="547.8" cy="232.4" r="3.4"/>
<circle cx="514.0" cy="235.5" r="3.4"/>
<circle cx="561.4" cy="230.1" r="3.4"/>
<circle cx="510.4" cy="229.2" r="3.4"/>
<circle cx="510.2" cy="234.0" r="3.4"/>
<circle cx="514.3" cy="233.2" r="3.4"/>
<circle cx="550.3" cy="232.1" r="3.4"/>
<circle cx="496.7" cy="219.1" r="3.4"/>
<circle cx="505.2" cy="235.8" r="3.4"/>
<circle cx="549.7" cy="222.8" r="3.4"/>
<circle cx="574.6" cy="228.6" r="3.4"/>
<circle cx="521.2" cy="233.4" r="3.4"/>
<circle cx="500.7" cy="234.3" r="3.4"/>
<circle cx="591.5" cy="231.8" r="3.4"/>
<circle cx="515.5" cy="221.3" r="3.4"/>
<circle cx="594.8" cy="238.6" r="3.4"/>
<circle cx="565.2" cy="237.3" r="3.4"/>
<circle cx="510.3" cy="237.7" r="3.4"/>
<circle cx="553.7" cy="231.5" r="3.4"/>
<circle cx="555.4" cy="226.1" r="3.4"/>
<circle cx="510.1" cy="237.1" r="3.4"/>
<circle cx="518.4" cy="233.2" r="3.4"/>
<circle cx="560.2" cy="236.6" r="3.4"/>
<circle cx="515.0" cy="233.5" r="3.4"/>
<circle cx="515.2" cy="231.1" r="3.4"/>
<circle cx="565.0" cy="236.6" r="3.4"/>
<circle cx="566.8" cy="235.2" r="3.4"/>
<circle cx="521.2" cy="223.9" r="3.4"/>
<circle cx="498.1" cy="238.2" r="3.4"/>
<circle cx="571.7" cy="237.4" r="3.4"/>
<circle cx="554.9" cy="235.3" r="3.4"/>
<circle cx="574.4" cy="237.0" r="3.4"/>
<circle cx="511.6" cy="238.4" r="3.4"/>
<circle cx="514.4" cy="223.4" r="3.4"/>
<circle cx="568.2" cy="236.9" r="3.4"/>
<circle cx="477.3" cy="236.3" r="3.4"/>
<circle cx="581.4" cy="228.8" r="3.4"/>
<circle cx="546.7" cy="236.4" r="3.4"/>
<circle cx="574.4" cy="228.1" r="3.4"/>
<circle cx="565.9" cy="230.0" r="3.4"/>
<circle cx="508.5" cy="232.7" r="3.4"/>
<circle cx="557.0" cy="238.2" r="3.4"/>
<circle cx="512.8" cy="232.1" r="3.4"/>
<circle cx="554.7" cy="235.2" r="3.4"/>
<circle cx="557.2" cy="237.0" r="3.4"/>
<circle cx="508.6" cy="225.9" r="3.4"/>
<circle cx="519.4" cy="236.9" r="3.4"/>
<circle cx="556.5" cy="222.4" r="3.4"/>
<circle cx="507.9" cy="226.1" r="3.4"/>
<circle cx="509.6" cy="227.4" r="3.4"/>
<circle cx="572.2" cy="237.3" r="3.4"/>
<circle cx="546.9" cy="237.2" r="3.4"/>
<circle cx="549.1" cy="238.0" r="3.4"/>
<circle cx="519.2" cy="238.3" r="3.4"/>
<circle cx="509.9" cy="238.4" r="3.4"/>
<circle cx="547.5" cy="236.9" r="3.4"/>
<circle cx="547.1" cy="234.6" r="3.4"/>
<circle cx="557.3" cy="237.3" r="3.4"/>
<circle cx="510.6" cy="234.4" r="3.4"/>
<circle cx="555.9" cy="234.4" r="3.4"/>
<circle cx="515.4" cy="231.9" r="3.4"/>
<circle cx="508.8" cy="234.6" r="3.4"/>
<circle cx="556.7" cy="227.9" r="3.4"/>
<circle cx="551.6" cy="226.5" r="3.4"/>
<circle cx="553.9" cy="221.8" r="3.4"/>
<circle cx="569.2" cy="221.0" r="3.4"/>
<circle cx="512.9" cy="222.6" r="3.4"/>
<circle cx="503.4" cy="237.4" r="3.4"/>
<circle cx="488.5" cy="234.2" r="3.4"/>
<circle cx="521.3" cy="235.3" r="3.4"/>
<circle cx="547.8" cy="236.1" r="3.4"/>
<circle cx="511.9" cy="236.9" r="3.4"/>
</g>
<g fill="none" stroke="#4d4d4d" stroke-width="0.6">
<circle cx="533.1" cy="237.4" r="3.4"/>
<circle cx="542.4" cy="235.0" r="3.4"/>
<circle cx="534.2" cy="238.0" r="3.4"/>
<circle cx="527.8" cy="234.2" r="3.4"/>
<circle cx="536.6" cy="233.1" r="3.4"/>
<circle cx="526.0" cy="237.3" r="3.4"/>
<circle cx="525.9" cy="226.1" r="3.4"/>
<circle cx="537.8" cy="238.7" r="3.4"/>
<circle cx="543.5" cy="220.2" r="3.4"/>
<circle cx="537.0" cy="235.0" r="3.4"/>
<circle cx="527.2" cy="238.7" r="3.4"/>
<circle cx="534.6" cy="238.7" r="3.4"/>
<circle cx="527.9" cy="237.9" r="3.4"/>
<circle cx="524.7" cy="235.0" r="3.4"/>
<circle cx="532.8" cy="235.0" r="3.4"/>
<circle cx="534.4" cy="237.6" r="3.4"/>
<circle cx="534.0" cy="237.9" r="3.4"/>
<circle cx="533.2" cy="238.5" r="3.4"/>
<circle cx="543.8" cy="218.8" r="3.4"/>
<circle cx="540.7" cy="229.3" r="3.4"/>
<circle cx="530.4" cy="238.3" r="3.4"/>
<circle cx="529.8" cy="238.7" r="3.4"/>
<circle cx="539.3" cy="236.5" r="3.4"/>
<circle cx="540.8" cy="236.3" r="3.4"/>
<circle cx="543.0" cy="224.8" r="3.4"/>
<circle cx="524.1" cy="238.1" r="3.4"/>
<circle cx="542.1" cy="234.9" r="3.4"/>
<circle cx="543.5" cy="236.1" r="3.4"/>
<circle cx="525.6" cy="231.5" r="3.4"/>
<circle cx="539.5" cy="237.8" r="3.4"/>
<circle cx="525.8" cy="237.0" r="3.4"/>
<circle cx="543.2" cy="227.8" r="3.4"/>
<circle cx="526.5" cy="237.8" r="3.4"/>
<circle cx="526.1" cy="238.7" r="3.4"/>
<circle cx="539.9" cy="238.3" r="3.4"/>
<circle cx="535.2" cy="237.8" r="3.4"/>
<circle cx="527.9" cy="228.9" r="3.4"/>
<circle cx="526.7" cy="231.1" r="3.4"/>
<circle cx="526.4" cy="235.8" r="3.4"/>
<circle cx="528.3" cy="237.7" r="3.4"/>
<circle cx="543.3" cy="226.3" r="3.4"/>
<circle cx="530.1" cy="228.7" r="3.4"/>
<circle cx="528.3" cy="236.4" r="3.4"/>
<circle cx="541.0" cy="231.2" r="3.4"/>
<circle cx="526.1" cy="219.1" r="3.4"/>
<circle cx="528.3" cy="237.8" r="3.4"/>
<circle cx="539.4" cy="237.2" r="3.4"/>
<circle cx="530.0" cy="238.7" r="3.4"/>
<circle cx="525.9" cy="232.6" r="3.4"/>
<circle cx="528.9" cy="233.3" r="3.4"/>
<circle cx="531.5" cy="237.1" r="3.4"/>
<circle cx="543.1" cy="234.7" r="3.4"/>
<circle cx="535.5" cy="234.1" r="3.4"/>
<circle cx="527.7" cy="238.4" r="3.4"/>
<circle cx="542.1" cy="225.8" r="3.4"/>
<circle cx="529.1" cy="238.3" r="3.4"/>
<circle cx="538.7" cy="225.1" r="3.4"/>
<circle cx="528.0" cy="221.5" r="3.4"/>
<circle cx="541.5" cy="232.1" r="3.4"/>
<circle cx="532.4" cy="238.7" r="3.4"/>
<circle cx="524.9" cy="220.2" r="3.4"/>
<circle cx="528.8" cy="230.9" r="3.4"/>
<circle cx="529.2" cy="228.4" r="3.4"/>
<circle cx="535.9" cy="238.2" r="3.4"/>
<circle cx="527.6" cy="229.0" r="3.4"/>
<circle cx="525.5" cy="238.0" r="3.4"/>
<circle cx="535.2" cy="234.9" r="3.4"/>
<circle cx="536.3" cy="238.2" r="3.4"/>
<circle cx="542.2" cy="238.1" r="3.4"/>
<circle cx="524.5" cy="237.6" r="3.4"/>
<circle cx="532.9" cy="238.7" r="3.4"/>
<circle cx="527.6" cy="236.5" r="3.4"/>
<circle cx="535.4" cy="238.7" r="3.4"/>
<circle cx="531.3" cy="231.1" r="3.4"/>
<circle cx="543.5" cy="230.8" r="3.4"/>
<circle cx="537.8" cy="234.8" r="3.4"/>
<circle cx="526.9" cy="238.7" r="3.4"/>
<circle cx="524.5" cy="222.4" r="3.4"/>
<circle cx="538.0" cy="226.4" r="3.4"/>
<circle cx="524.5" cy="231.3" r="3.4"/>
<circle cx="533.6" cy="237.2" r="3.4"/>
<circle cx="530.4" cy="226.4" r="3.4"/>
<circle cx="525.6" cy="233.4" r="3.4"/>
<circle cx="538.7" cy="226.4" r="3.4"/>
<circle cx="538.7" cy="231.6" r="3.4"/>
<circle cx="539.8" cy="223.4" r="3.4"/>
<circle cx="531.1" cy="234.2" r="3.4"/>
<circle cx="541.9" cy="223.9" r="3.4"/>
<circle cx="532.4" cy="234.7" r="3.4"/>
<circle cx="541.2" cy="232.8" r="3.4"/>
<circle cx="536.5" cy="237.6" r="3.4"/>
<circle cx="535.6" cy="236.5" r="3.4"/>
<circle cx="525.7" cy="231.2" r="3.4"/>
<circle cx="543.7" cy="223.6" r="3.4"/>
<circle cx="538.5" cy="236.9" r="3.4"/>
<circle cx="538.6" cy="234.1" r="3.4"/>
<circle cx="532.8" cy="235.0" r="3.4"/>
<circle cx="525.8" cy="228.1" r="3.4"/>
<circle cx="524.7" cy="232.2" r="3.4"/>
<circle cx="533.6" cy="238.6" r="3.4"/>
<circle cx="537.9" cy="235.9" r="3.4"/>
<circle cx="536.3" cy="231.6" r="3.4"/>
<circle cx="529.2" cy="238.7" r="3.4"/>
<circle cx="530.1" cy="233.1" r="3.4"/>
<circle cx="528.1" cy="238.4" r="3.4"/>
<circle cx="542.0" cy="230.7" r="3.4"/>
<circle cx="532.9" cy="234.6" r="3.4"/>
<circle cx="530.6" cy="233.9" r="3.4"/>
<circle cx="528.0" cy="235.7" r="3.4"/>
<circle cx="540.0" cy="222.8" r="3.4"/>
<circle cx="541.5" cy="236.3" r="3.4"/>
<circle cx="535.6" cy="238.2" r="3.4"/>
<circle cx="526.8" cy="234.4" r="3.4"/>
<circle cx="540.7" cy="224.7" r="3.4"/>
<circle cx="538.2" cy="226.2" r="3.4"/>
<circle cx="529.6" cy="238.5" r="3.4"/>
<circle cx="533.0" cy="238.5" r="3.4"/>
<circle cx="528.4" cy="236.1" r="3.4"/>
<circle cx="536.5" cy="236.8" r="3.4"/>
<circle cx="530.4" cy="230.2" r="3.4"/>
<circle cx="543.5" cy="235.2" r="3.4"/>
<circle cx="525.6" cy="238.7" r="3.4"/>
<circle cx="541.4" cy="238.7" r="3.4"/>
<circle cx="538.1" cy="234.7" r="3.4"/>
<circle cx="530.2" cy="231.0" r="3.4"/>
<circle cx="524.5" cy="238.5" r="3.4"/>
<circle cx="533.1" cy="238.7" r="3.4"/>
<circle cx="540.5" cy="237.9" r="3.4"/>
<circle cx="526.9" cy="238.7" r="3.4"/>
<circle cx="536.6" cy="237.2" r="3.4"/>
<circle cx="536.6" cy="235.0" r="3.4"/>
<circle cx="540.1" cy="221.0" r="3.4"/>
<circle cx="537.6" cy="238.4" r="3.4"/>
<circle cx="533.5" cy="238.7" r="3.4"/>
<circle cx="524.3" cy="234.9" r="3.4"/>
<circle cx="538.2" cy="238.4" r="3.4"/>
<circle cx="529.5" cy="237.3" r="3.4"/>
<circle cx="537.9" cy="235.6" r="3.4"/>
<circle cx="536.3" cy="234.1" r="3.4"/>
<circle cx="531.9" cy="233.9" r="3.4"/>
<circle cx="542.0" cy="238.7" r="3.4"/>
<circle cx="542.5" cy="228.9" r="3.4"/>
<circle cx="526.7" cy="235.2" r="3.4"/>
<circle cx="536.5" cy="231.3" r="3.4"/>
<circle cx="531.6" cy="236.1" r="3.4"/>
<circle cx="541.5" cy="226.5" r="3.4"/>
<circle cx="542.8" cy="235.0" r="3.4"/>
<circle cx="537.0" cy="238.4" r="3.4"/>
<circle cx="538.4" cy="229.3" r="3.4"/>
<circle cx="536.8" cy="233.9" r="3.4"/>
<circle cx="528.3" cy="224.2" r="3.4"/>
<circle cx="543.5" cy="219.6" r="3.4"/>
<circle cx="534.7" cy="236.2" r="3.4"/>
<circle cx="530.5" cy="228.8" r="3.4"/>
<circle cx="541.0" cy="236.8" r="3.4"/>
<circle cx="525.8" cy="235.4" r="3.4"/>
<circle cx="535.0" cy="236.0" r="3.4"/>
<circle cx="533.8" cy="238.7" r="3.4"/>
<circle cx="540.1" cy="238.7" r="3.4"/>
<circle cx="539.9" cy="238.3" r="3.4"/>
<circle cx="530.7" cy="232.0" r="3.4"/>
<circle cx="526.9" cy="238.4" r="3.4"/>
<circle cx="534.3" cy="237.3" r="3.4"/>
<circle cx="540.7" cy="229.9" r="3.4"/>
<circle cx="542.8" cy="234.5" r="3.4"/>
<circle cx="542.9" cy="238.7" r="3.4"/>
<circle cx="528.5" cy="234.4" r="3.4"/>
<circle cx="529.9" cy="231.8" r="3.4"/>
<circle cx="536.7" cy="236.4" r="3.4"/>
<circle cx="540.8" cy="233.1" r="3.4"/>
<circle cx="530.3" cy="237.2" r="3.4"/>
<circle cx="540.8" cy="222.8" r="3.4"/>
<circle cx="528.2" cy="225.7" r="3.4"/>
<circle cx="543.2" cy="233.9" r="3.4"/>
<circle cx="535.4" cy="238.6" r="3.4"/>
<circle cx="534.7" cy="237.8" r="3.4"/>
<circle cx="536.1" cy="238.7" r="3.4"/>
<circle cx="543.3" cy="234.1" r="3.4"/>
<circle cx="532.0" cy="234.0" r="3.4"/>
<circle cx="535.2" cy="237.6" r="3.4"/>
<circle cx="537.8" cy="238.7" r="3.4"/>
<circle cx="534.8" cy="238.1" r="3.4"/>
<circle cx="543.0" cy="221.9" r="3.4"/>
<circle cx="529.4" cy="235.8" r="3.4"/>
<circle cx="526.6" cy="235.5" r="3.4"/>
<circle cx="540.2" cy="222.9" r="3.4"/>
<circle cx="533.5" cy="238.5" r="3.4"/>
<circle cx="527.9" cy="232.0" r="3.4"/>
<circle cx="542.4" cy="238.5" r="3.4"/>
<circle cx="539.5" cy="238.7" r="3.4"/>
<circle cx="528.0" cy="238.0" r="3.4"/>
<circle cx="537.7" cy="237.7" r="3.4"/>
<circle cx="531.1" cy="235.2" r="3.4"/>
<circle cx="526.2" cy="228.7" r="3.4"/>
<circle cx="526.6" cy="234.2" r="3.4"/>
<circle cx="529.1" cy="238.3" r="3.4"/>
<circle cx="534.6" cy="238.1" r="3.4"/>
<circle cx="531.5" cy="237.4" r="3.4"/>
<circle cx="534.6" cy="238.7" r="3.4"/>
<circle cx="528.2" cy="231.9" r="3.4"/>
<circle cx="536.7" cy="236.3" r="3.4"/>
<circle cx="540.9" cy="231.9" r="3.4"/>
<circle cx="541.0" cy="237.9" r="3.4"/>
<circle cx="538.8" cy="228.9" r="3.4"/>
<circle cx="542.0" cy="237.2" r="3.4"/>
<circle cx="530.3" cy="228.2" r="3.4"/>
<circle cx="528.4" cy="220.8" r="3.4"/>
<circle cx="541.7" cy="238.5" r="3.4"/>
<circle cx="528.9" cy="230.4" r="3.4"/>
<circle cx="529.3" cy="238.7" r="3.4"/>
<circle cx="540.6" cy="235.7" r="3.4"/>
<circle cx="539.7" cy="238.6" r="3.4"/>
<circle cx="532.1" cy="235.4" r="3.4"/>
<circle cx="524.5" cy="238.2" r="3.4"/>
<circle cx="537.6" cy="228.6" r="3.4"/>
<circle cx="543.2" cy="238.6" r="3.4"/>
<circle cx="534.1" cy="237.4" r="3.4"/>
<circle cx="534.1" cy="237.8" r="3.4"/>
<circle cx="527.9" cy="238.7" r="3.4"/>
<circle cx="526.2" cy="238.7" r="3.4"/>
<circle cx="535.0" cy="237.6" r="3.4"/>
<circle cx="535.4" cy="238.7" r="3.4"/>
<circle cx="527.8" cy="238.1" r="3.4"/>
<circle cx="540.7" cy="219.1" r="3.4"/>
<circle cx="542.4" cy="238.6" r="3.4"/>
<circle cx="525.4" cy="220.7" r="3.4"/>
<circle cx="533.3" cy="236.4" r="3.4"/>
<circle cx="530.6" cy="236.5" r="3.4"/>
<circle cx="534.3" cy="238.3" r="3.4"/>
<circle cx="536.0" cy="238.7" r="3.4"/>
<circle cx="538.0" cy="229.5" r="3.4"/>
<circle cx="527.7" cy="235.2" r="3.4"/>
<circle cx="538.7" cy="236.6" r="3.4"/>
<circle cx="528.0" cy="238.4" r="3.4"/>
<circle cx="534.2" cy="238.7" r="3.4"/>
<circle cx="541.8" cy="226.4" r="3.4"/>
<circle cx="538.0" cy="228.9" r="3.4"/>
<circle cx="536.6" cy="237.5" r="3.4"/>
<circle cx="536.0" cy="237.0" r="3.4"/>
<circle cx="543.5" cy="226.3" r="3.4"/>
<circle cx="529.2" cy="225.9" r="3.4"/>
<circle cx="538.8" cy="229.6" r="3.4"/>
<circle cx="540.2" cy="236.0" r="3.4"/>
<circle cx="541.8" cy="223.6" r="3.4"/>
<circle cx="537.8" cy="231.4" r="3.4"/>
<circle cx="539.2" cy="236.4" r="3.4"/>
<circle cx="538.4" cy="238.7" r="3.4"/>
<circle cx="530.9" cy="236.7" r="3.4"/>
<circle cx="524.3" cy="236.7" r="3.4"/>
<circle cx="536.7" cy="235.2" r="3.4"/>
<circle cx="528.7" cy="223.5" r="3.4"/>
<circle cx="537.3" cy="237.7" r="3.4"/>
<circle cx="537.2" cy="235.5" r="3.4"/>
<circle cx="534.7" cy="238.2" r="3.4"/>
<circle cx="543.9" cy="231.2" r="3.4"/>
<circle cx="538.0" cy="231.3" r="3.4"/>
<circle cx="543.5" cy="238.7" r="3.4"/>
<circle cx="536.3" cy="234.3" r="3.4"/>
<circle cx="529.2" cy="236.6" r="3.4"/>
<circle cx="525.1" cy="238.2" r="3.4"/>
<circle cx="531.5" cy="238.7" r="3.4"/>
<circle cx="529.1" cy="225.7" r="3.4"/>
<circle cx="535.0" cy="237.6" r="3.4"/>
<circle cx="543.2" cy="233.0" r="3.4"/>
<circle cx="543.8" cy="231.3" r="3.4"/>
<circle cx="540.1" cy="238.7" r="3.4"/>
<circle cx="535.9" cy="234.6" r="3.4"/>
<circle cx="525.0" cy="221.6" r="3.4"/>
<circle cx="527.3" cy="234.9" r="3.4"/>
<circle cx="527.5" cy="234.5" r="3.4"/>
<circle cx="536.2" cy="238.7" r="3.4"/>
<circle cx="542.8" cy="235.8" r="3.4"/>
<circle cx="534.5" cy="237.6" r="3.4"/>
<circle cx="531.3" cy="238.1" r="3.4"/>
<circle cx="537.1" cy="235.7" r="3.4"/>
<circle cx="529.7" cy="231.9" r="3.4"/>
<circle cx="530.0" cy="238.7" r="3.4"/>
<circle cx="529.0" cy="238.7" r="3.4"/>
<circle cx="527.2" cy="227.9" r="3.4"/>
<circle cx="531.8" cy="232.2" r="3.4"/>
<circle cx="538.9" cy="238.7" r="3.4"/>
<circle cx="543.7" cy="221.0" r="3.4"/>
<circle cx="525.6" cy="222.6" r="3.4"/>
<circle cx="532.6" cy="237.5" r="3.4"/>
<circle cx="543.3" cy="237.8" r="3.4"/>
<circle cx="534.5" cy="235.8" r="3.4"/>
<circle cx="538.4" cy="236.0" r="3.4"/>
<circle cx="543.5" cy="225.9" r="3.4"/>
<circle cx="536.0" cy="238.7" r="3.4"/>
<circle cx="536.5" cy="237.1" r="3.4"/>
<circle cx="528.1" cy="238.7" r="3.4"/>
<circle cx="534.6" cy="238.7" r="3.4"/>
<circle cx="532.9" cy="236.6" r="3.4"/>
<circle cx="533.1" cy="238.5" r="3.4"/>
<circle cx="535.6" cy="237.7" r="3.4"/>
<circle cx="539.5" cy="234.3" r="3.4"/>
<circle cx="543.8" cy="220.7" r="3.4"/>
<circle cx="538.6" cy="238.1" r="3.4"/>
<circle cx="526.4" cy="223.1" r="3.4"/>
<circle cx="539.6" cy="232.3" r="3.4"/>
<circle cx="531.2" cy="238.2" r="3.4"/>
<circle cx="537.7" cy="235.2" r="3.4"/>
<circle cx="535.8" cy="236.1" r="3.4"/>
<circle cx="539.0" cy="238.3" r="3.4"/>
<circle cx="529.0" cy="223.2" r="3.4"/>
<circle cx="542.2" cy="223.6" r="3.4"/>
<circle cx="524.9" cy="238.7" r="3.4"/>
<circle cx="529.5" cy="236.5" r="3.4"/>
<circle cx="536.4" cy="238.7" r="3.4"/>
<circle cx="534.8" cy="238.7" r="3.4"/>
<circle cx="525.8" cy="230.2" r="3.4"/>
<circle cx="535.0" cy="236.9" r="3.4"/>
<circle cx="531.5" cy="236.9" r="3.4"/>
<circle cx="528.3" cy="237.0" r="3.4"/>
<circle cx="538.8" cy="227.9" r="3.4"/>
<circle cx="525.6" cy="238.6" r="3.4"/>
<circle cx="540.1" cy="231.8" r="3.4"/>
<circle cx="539.3" cy="238.2" r="3.4"/>
<circle cx="532.5" cy="238.4" r="3.4"/>
<circle cx="540.1" cy="236.6" r="3.4"/>
<circle cx="537.0" cy="228.2" r="3.4"/>
<circle cx="530.6" cy="235.6" r="3.4"/>
<circle cx="538.9" cy="225.4" r="3.4"/>
<circle cx="532.6" cy="238.1" r="3.4"/>
<circle cx="526.0" cy="223.7" r="3.4"/>
<circle cx="525.7" cy="238.7" r="3.4"/>
<circle cx="535.3" cy="237.6" r="3.4"/>
<circle cx="537.7" cy="237.9" r="3.4"/>
<circle cx="539.4" cy="238.7" r="3.4"/>
<circle cx="528.3" cy="231.4" r="3.4"/>
<circle cx="525.7" cy="237.3" r="3.4"/>
<circle cx="538.4" cy="232.1" r="3.4"/>
<circle cx="529.7" cy="238.6" r="3.4"/>
<circle cx="531.2" cy="233.7" r="3.4"/>
<circle cx="531.4" cy="238.7" r="3.4"/>
<circle cx="538.1" cy="234.7" r="3.4"/>
<circle cx="542.3" cy="221.2" r="3.4"/>
<circle cx="542.2" cy="235.5" r="3.4"/>
<circle cx="540.0" cy="237.3" r="3.4"/>
<circle cx="530.4" cy="237.1" r="3.4"/>
<circle cx="542.6" cy="223.0" r="3.4"/>
<circle cx="529.0" cy="237.0" r="3.4"/>
<circle cx="531.3" cy="237.7" r="3.4"/>
<circle cx="531.9" cy="237.8" r="3.4"/>
<circle cx="528.0" cy="233.3" r="3.4"/>
<circle cx="539.9" cy="233.9" r="3.4"/>
<circle cx="540.6" cy="233.1" r="3.4"/>
<circle cx="527.6" cy="227.8" r="3.4"/>
<circle cx="541.5" cy="237.5" r="3.4"/>
<circle cx="524.6" cy="234.1" r="3.4"/>
<circle cx="534.9" cy="237.4" r="3.4"/>
<circle cx="543.2" cy="230.9" r="3.4"/>
<circle cx="540.0" cy="238.7" r="3.4"/>
<circle cx="534.9" cy="235.9" r="3.4"/>
<circle cx="525.8" cy="238.7" r="3.4"/>
<circle cx="538.7" cy="226.5" r="3.4"/>
<circle cx="525.8" cy="231.4" r="3.4"/>
<circle cx="527.0" cy="228.2" r="3.4"/>
<circle cx="536.9" cy="238.3" r="3.4"/>
<circle cx="528.5" cy="228.8" r="3.4"/>
<circle cx="534.4" cy="236.9" r="3.4"/>
<circle cx="531.9" cy="238.0" r="3.4"/>
<circle cx="543.2" cy="230.3" r="3.4"/>
<circle cx="533.9" cy="238.1" r="3.4"/>
<circle cx="538.4" cy="231.9" r="3.4"/>
<circle cx="542.2" cy="235.9" r="3.4"/>
<circle cx="540.4" cy="230.5" r="3.4"/>
<circle cx="541.0" cy="226.2" r="3.4"/>
<circle cx="540.6" cy="223.2" r="3.4"/>
<circle cx="543.0" cy="231.2" r="3.4"/>
<circle cx="534.5" cy="237.1" r="3.4"/>
<circle cx="540.0" cy="235.9" r="3.4"/>
<circle cx="532.4" cy="238.7" r="3.4"/>
<circle cx="538.8" cy="223.3" r="3.4"/>
<circle cx="531.5" cy="238.6" r="3.4"/>
<circle cx="528.2" cy="235.9" r="3.4"/>
<circle cx="529.9" cy="225.8" r="3.4"/>
<circle cx="525.3" cy="237.2" r="3.4"/>
<circle cx="526.4" cy="231.0" r="3.4"/>
<circle cx="539.4" cy="238.3" r="3.4"/>
<circle cx="525.4" cy="235.1" r="3.4"/>
<circle cx="535.7" cy="233.2" r="3.4"/>
<circle cx="524.8" cy="238.6" r="3.4"/>
<circle cx="527.8" cy="238.1" r="3.4"/>
<circle cx="528.8" cy="230.5" r="3.4"/>
<circle cx="535.9" cy="238.5" r="3.4"/>
<circle cx="527.8" cy="237.5" r="3.4"/>
<circle cx="527.5" cy="227.8" r="3.4"/>
<circle cx="530.3" cy="235.4" r="3.4"/>
<circle cx="540.3" cy="234.8" r="3.4"/>
<circle cx="529.3" cy="226.7" r="3.4"/>
<circle cx="542.2" cy="236.9" r="3.4"/>
<circle cx="534.9" cy="234.4" r="3.4"/>
<circle cx="533.7" cy="238.6" r="3.4"/>
<circle cx="525.1" cy="220.9" r="3.4"/>
<circle cx="540.0" cy="236.4" r="3.4"/>
<circle cx="534.5" cy="237.9" r="3.4"/>
<circle cx="529.5" cy="224.2" r="3.4"/>
<circle cx="537.1" cy="238.3" r="3.4"/>
<circle cx="524.3" cy="234.9" r="3.4"/>
<circle cx="531.5" cy="233.1" r="3.4"/>
<circle cx="538.2" cy="234.0" r="3.4"/>
<circle cx="527.2" cy="238.4" r="3.4"/>
<circle cx="530.5" cy="238.1" r="3.4"/>
<circle cx="541.3" cy="234.1" r="3.4"/>
<circle cx="536.7" cy="229.0" r="3.4"/>
<circle cx="529.4" cy="234.9" r="3.4"/>
<circle cx="527.1" cy="227.4" r="3.4"/>
<circle cx="524.2" cy="225.7" r="3.4"/>
<circle cx="540.8" cy="225.7" r="3.4"/>
<circle cx="525.8" cy="237.6" r="3.4"/>
<circle cx="538.3" cy="238.7" r="3.4"/>
<circle cx="533.6" cy="238.1" r="3.4"/>
<circle cx="543.0" cy="232.5" r="3.4"/>
<circle cx="541.1" cy="237.3" r="3.4"/>
<circle cx="539.7" cy="236.1" r="3.4"/>
<circle cx="542.2" cy="238.6" r="3.4"/>
<circle cx="540.4" cy="238.1" r="3.4"/>
<circle cx="534.9" cy="237.6" r="3.4"/>
<circle cx="527.2" cy="225.3" r="3.4"/>
<circle cx="530.3" cy="237.8" r="3.4"/>
<circle cx="525.6" cy="237.3" r="3.4"/>
<circle cx="533.4" cy="236.9" r="3.4"/>
<circle cx="531.2" cy="234.4" r="3.4"/>
<circle cx="526.2" cy="236.2" r="3.4"/>
<circle cx="533.2" cy="234.8" r="3.4"/>
<circle cx="540.5" cy="230.8" r="3.4"/>
<circle cx="524.4" cy="236.4" r="3.4"/>
<circle cx="538.1" cy="238.2" r="3.4"/>
<circle cx="535.3" cy="237.7" r="3.4"/>
<circle cx="524.3" cy="219.0" r="3.4"/>
<circle cx="539.9" cy="238.2" r="3.4"/>
<circle cx="536.3" cy="238.2" r="3.4"/>
<circle cx="531.6" cy="236.4" r="3.4"/>
<circle cx="530.0" cy="237.5" r="3.4"/>
<circle cx="531.9" cy="235.4" r="3.4"/>
<circle cx="529.2" cy="238.3" r="3.4"/>
<circle cx="538.6" cy="237.4" r="3.4"/>
<circle cx="542.8" cy="233.1" r="3.4"/>
<circle cx="538.4" cy="237.4" r="3.4"/>
<circle cx="540.5" cy="238.6" r="3.4"/>
<circle cx="526.9" cy="238.6" r="3.4"/>
<circle cx="537.5" cy="233.1" r="3.4"/>
<circle cx="527.7" cy="236.0" r="3.4"/>
<circle cx="540.7" cy="232.4" r="3.4"/>
<circle cx="525.9" cy="238.0" r="3.4"/>
<circle cx="527.2" cy="238.5" r="3.4"/>
<circle cx="532.2" cy="238.7" r="3.4"/>
<circle cx="542.3" cy="235.7" r="3.4"/>
<circle cx="534.2" cy="237.7" r="3.4"/>
<circle cx="539.3" cy="227.6" r="3.4"/>
<circle cx="531.7" cy="238.0" r="3.4"/>
<circle cx="532.3" cy="238.7" r="3.4"/>
<circle cx="532.0" cy="235.2" r="3.4"/>
<circle cx="543.5" cy="226.8" r="3.4"/>
<circle cx="537.2" cy="235.0" r="3.4"/>
<circle cx="524.5" cy="237.0" r="3.4"/>
<circle cx="530.9" cy="234.5" r="3.4"/>
<circle cx="526.2" cy="236.4" r="3.4"/>
<circle cx="534.2" cy="237.2" r="3.4"/>
</g>
<g fill="none" stroke="#4169e1" stroke-opacity="0.55" stroke-width="0.6">
<circle cx="545.5" cy="182.6" r="3.1"/>
<circle cx="542" cy="200.5" r="3.1"/>
<circle cx="544" cy="202" r="3.1"/>
<circle cx="525" cy="209" r="3.1"/>
<circle cx="527" cy="213" r="3.1"/>
<circle cx="541" cy="215" r="3.1"/>
<circle cx="539" cy="217" r="3.1"/>
<circle cx="546" cy="207" r="3.1"/>
</g>
<circle cx="452.70" cy="175.70" r="3.4" fill="#ee0000" stroke="none" stroke-width="1" fill-opacity="0.55"/>
<circle cx="445.70" cy="203.20" r="3.4" fill="#ee0000" stroke="none" stroke-width="1" fill-opacity="0.55"/>
<circle cx="454.50" cy="208.70" r="3.4" fill="#ee0000" stroke="none" stroke-width="1" fill-opacity="0.55"/>
<circle cx="422.50" cy="216.20" r="3.4" fill="#ee0000" stroke="none" stroke-width="1" fill-opacity="0.55"/>
<circle cx="466.00" cy="209.50" r="3.4" fill="#ee0000" stroke="none" stroke-width="1" fill-opacity="0.55"/>
<circle cx="482.70" cy="209.50" r="3.4" fill="#ee0000" stroke="none" stroke-width="1" fill-opacity="0.55"/>
<circle cx="486.50" cy="212.00" r="3.4" fill="#ee0000" stroke="none" stroke-width="1" fill-opacity="0.55"/>
<circle cx="488.00" cy="215.70" r="3.4" fill="#ee0000" stroke="none" stroke-width="1" fill-opacity="0.55"/>
<circle cx="494.50" cy="182.00" r="3.4" fill="#ee0000" stroke="none" stroke-width="1" fill-opacity="0.55"/>
<circle cx="500.70" cy="187.00" r="3.4" fill="#ee0000" stroke="none" stroke-width="1" fill-opacity="0.55"/>
<circle cx="495.00" cy="213.20" r="3.4" fill="#ee0000" stroke="none" stroke-width="1" fill-opacity="0.55"/>
<circle cx="500.70" cy="205.00" r="3.4" fill="#ee0000" stroke="none" stroke-width="1" fill-opacity="0.55"/>
<circle cx="502.00" cy="191.20" r="3.4" fill="#ee0000" stroke="none" stroke-width="1" fill-opacity="0.55"/>
<circle cx="475.70" cy="123.50" r="3.4" fill="#ee0000" stroke="none" stroke-width="1" fill-opacity="0.55"/>
<circle cx="584.20" cy="37.00" r="3.4" fill="#ee0000" stroke="none" stroke-width="1" fill-opacity="0.55"/>
<circle cx="613.00" cy="85.50" r="3.4" fill="#ee0000" stroke="none" stroke-width="1" fill-opacity="0.55"/>
<circle cx="643.00" cy="110.50" r="3.4" fill="#ee0000" stroke="none" stroke-width="1" fill-opacity="0.55"/>
<circle cx="569.20" cy="123.50" r="3.4" fill="#ee0000" stroke="none" stroke-width="1" fill-opacity="0.55"/>
<circle cx="568.00" cy="132.50" r="3.4" fill="#ee0000" stroke="none" stroke-width="1" fill-opacity="0.55"/>
<circle cx="575.40" cy="160.00" r="3.4" fill="#ee0000" stroke="none" stroke-width="1" fill-opacity="0.55"/>
<circle cx="562.70" cy="158.60" r="3.4" fill="#ee0000" stroke="none" stroke-width="1" fill-opacity="0.55"/>
<circle cx="588.90" cy="164.70" r="3.4" fill="#ee0000" stroke="none" stroke-width="1" fill-opacity="0.55"/>
<circle cx="598.80" cy="162.80" r="3.4" fill="#ee0000" stroke="none" stroke-width="1" fill-opacity="0.55"/>
<circle cx="604.00" cy="169.00" r="3.4" fill="#ee0000" stroke="none" stroke-width="1" fill-opacity="0.55"/>
<circle cx="593.00" cy="176.50" r="3.4" fill="#ee0000" stroke="none" stroke-width="1" fill-opacity="0.55"/>
<circle cx="590.20" cy="187.60" r="3.4" fill="#ee0000" stroke="none" stroke-width="1" fill-opacity="0.55"/>
<circle cx="615.00" cy="187.20" r="3.4" fill="#ee0000" stroke="none" stroke-width="1" fill-opacity="0.55"/>
<circle cx="621.60" cy="195.20" r="3.4" fill="#ee0000" stroke="none" stroke-width="1" fill-opacity="0.55"/>
<circle cx="622.60" cy="204.30" r="3.4" fill="#ee0000" stroke="none" stroke-width="1" fill-opacity="0.55"/>
<circle cx="594.00" cy="201.90" r="3.4" fill="#ee0000" stroke="none" stroke-width="1" fill-opacity="0.55"/>
<circle cx="608.90" cy="208.50" r="3.4" fill="#ee0000" stroke="none" stroke-width="1" fill-opacity="0.55"/>
<circle cx="561.70" cy="177.60" r="3.4" fill="#ee0000" stroke="none" stroke-width="1" fill-opacity="0.55"/>
<circle cx="562.30" cy="185.20" r="3.4" fill="#ee0000" stroke="none" stroke-width="1" fill-opacity="0.55"/>
<circle cx="521.00" cy="182.40" r="3.4" fill="#ee0000" stroke="none" stroke-width="1" fill-opacity="0.55"/>
<circle cx="506.00" cy="210.00" r="3.4" fill="#ee0000" stroke="none" stroke-width="1" fill-opacity="0.55"/>
<circle cx="510.00" cy="213.00" r="3.4" fill="#ee0000" stroke="none" stroke-width="1" fill-opacity="0.55"/>
<circle cx="515.00" cy="214.00" r="3.4" fill="#ee0000" stroke="none" stroke-width="1" fill-opacity="0.55"/>
<circle cx="548.00" cy="210.00" r="3.4" fill="#ee0000" stroke="none" stroke-width="1" fill-opacity="0.55"/>
<circle cx="551.00" cy="213.00" r="3.4" fill="#ee0000" stroke="none" stroke-width="1" fill-opacity="0.55"/>
<circle cx="553.00" cy="208.00" r="3.4" fill="#ee0000" stroke="none" stroke-width="1" fill-opacity="0.55"/>
<circle cx="555.00" cy="215.00" r="3.4" fill="#ee0000" stroke="none" stroke-width="1" fill-opacity="0.55"/>
<circle cx="557.00" cy="211.00" r="3.4" fill="#ee0000" stroke="none" stroke-width="1" fill-opacity="0.55"/>
<circle cx="549.50" cy="216.00" r="3.4" fill="#ee0000" stroke="none" stroke-width="1" fill-opacity="0.55"/>
<circle cx="561.70" cy="207.50" r="3.4" fill="#ee0000" stroke="none" stroke-width="1" fill-opacity="0.55"/>
<circle cx="565.00" cy="211.00" r="3.4" fill="#ee0000" stroke="none" stroke-width="1" fill-opacity="0.55"/>
<circle cx="568.00" cy="214.00" r="3.4" fill="#ee0000" stroke="none" stroke-width="1" fill-opacity="0.55"/>
<circle cx="570.20" cy="204.90" r="3.4" fill="#ee0000" stroke="none" stroke-width="1" fill-opacity="0.55"/>
<circle cx="572.00" cy="209.00" r="3.4" fill="#ee0000" stroke="none" stroke-width="1" fill-opacity="0.55"/>
<circle cx="575.00" cy="213.00" r="3.4" fill="#ee0000" stroke="none" stroke-width="1" fill-opacity="0.55"/>
<circle cx="578.00" cy="216.00" r="3.4" fill="#ee0000" stroke="none" stroke-width="1" fill-opacity="0.55"/>
<circle cx="566.00" cy="217.00" r="3.4" fill="#ee0000" stroke="none" stroke-width="1" fill-opacity="0.55"/>
<circle cx="585.30" cy="206.80" r="3.4" fill="#ee0000" stroke="none" stroke-width="1" fill-opacity="0.55"/>
<circle cx="590.00" cy="211.40" r="3.4" fill="#ee0000" stroke="none" stroke-width="1" fill-opacity="0.55"/>
<circle cx="595.20" cy="214.70" r="3.4" fill="#ee0000" stroke="none" stroke-width="1" fill-opacity="0.55"/>
<circle cx="593.20" cy="200.30" r="3.4" fill="#ee0000" stroke="none" stroke-width="1" fill-opacity="0.55"/>
<circle cx="603.70" cy="215.40" r="3.4" fill="#ee0000" stroke="none" stroke-width="1" fill-opacity="0.55"/>
<circle cx="608.30" cy="206.80" r="3.4" fill="#ee0000" stroke="none" stroke-width="1" fill-opacity="0.55"/>
<circle cx="612.30" cy="206.20" r="3.4" fill="#ee0000" stroke="none" stroke-width="1" fill-opacity="0.55"/>
<circle cx="609.60" cy="212.70" r="3.4" fill="#ee0000" stroke="none" stroke-width="1" fill-opacity="0.55"/>
<text x="584.2" y="39.8" font-size="8.3" text-anchor="middle" fill="#111" font-weight="normal" stroke="#111" stroke-width="0.25">Rab3b</text>
<text x="613" y="88.3" font-size="8.3" text-anchor="middle" fill="#111" font-weight="normal" stroke="#111" stroke-width="0.25">Kifc3</text>
<text x="643" y="113.3" font-size="8.3" text-anchor="middle" fill="#111" font-weight="normal" stroke="#111" stroke-width="0.25">Trerf1</text>
<text x="475.7" y="126.3" font-size="8.3" text-anchor="middle" fill="#111" font-weight="normal" stroke="#111" stroke-width="0.25">Kcns1</text>
<text x="569.2" y="126.3" font-size="8.3" text-anchor="middle" fill="#111" font-weight="normal" stroke="#111" stroke-width="0.25">Shank2</text>
<text x="568" y="135.3" font-size="8.3" text-anchor="middle" fill="#111" font-weight="normal" stroke="#111" stroke-width="0.25">Cenpv</text>
<text x="562.7" y="161.4" font-size="8.3" text-anchor="middle" fill="#111" font-weight="normal" stroke="#111" stroke-width="0.25">Vat1</text>
<text x="598.8" y="165.6" font-size="8.3" text-anchor="middle" fill="#111" font-weight="normal" stroke="#111" stroke-width="0.25">Plk2</text>
<text x="604" y="171.8" font-size="8.3" text-anchor="middle" fill="#111" font-weight="normal" stroke="#111" stroke-width="0.25">Akap12</text>
<text x="593" y="179.3" font-size="8.3" text-anchor="middle" fill="#111" font-weight="normal" stroke="#111" stroke-width="0.25">Ccr9</text>
<text x="590.2" y="190.4" font-size="8.3" text-anchor="middle" fill="#111" font-weight="normal" stroke="#111" stroke-width="0.25">Hpgds</text>
<text x="615" y="190" font-size="8.3" text-anchor="middle" fill="#111" font-weight="normal" stroke="#111" stroke-width="0.25">Crtam</text>
<text x="621.6" y="198" font-size="8.3" text-anchor="middle" fill="#111" font-weight="normal" stroke="#111" stroke-width="0.25">Tll7</text>
<text x="594" y="204.7" font-size="8.3" text-anchor="middle" fill="#111" font-weight="normal" stroke="#111" stroke-width="0.25">Hspb1</text>
<text x="608.9" y="211.3" font-size="8.3" text-anchor="middle" fill="#111" font-weight="normal" stroke="#111" stroke-width="0.25">Thbd</text>
<text x="561.7" y="180.4" font-size="8.3" text-anchor="middle" fill="#111" font-weight="normal" stroke="#111" stroke-width="0.25">C77080</text>
<text x="562.3" y="188" font-size="8.3" text-anchor="middle" fill="#111" font-weight="normal" stroke="#111" stroke-width="0.25">Eef2k</text>
<text x="521" y="185.2" font-size="8.3" text-anchor="middle" fill="#111" font-weight="normal" stroke="#111" stroke-width="0.25">Sgk3</text>
<text x="502.7" y="194.7" font-size="8.3" text-anchor="middle" fill="#111" font-weight="normal" stroke="#111" stroke-width="0.25">Cpne1</text>
<text x="500.5" y="208.8" font-size="8.3" text-anchor="middle" fill="#111" font-weight="normal" stroke="#111" stroke-width="0.25">Dclk2</text>
<text x="509" y="214.7" font-size="8.3" text-anchor="middle" fill="#111" font-weight="normal" stroke="#111" stroke-width="0.25">Mcmdc2</text>
<text x="546" y="212.8" font-size="8.3" text-anchor="middle" fill="#111" font-weight="normal" stroke="#111" stroke-width="0.25">Zfp703</text>
<text x="547" y="220.4" font-size="8.3" text-anchor="middle" fill="#111" font-weight="normal" stroke="#111" stroke-width="0.25">Irs2</text>
<text x="571" y="209.8" font-size="8.3" text-anchor="middle" fill="#111" font-weight="normal" stroke="#111" stroke-width="0.25">Sgk1</text>
<text x="568" y="217.8" font-size="8.3" text-anchor="middle" fill="#111" font-weight="normal" stroke="#111" stroke-width="0.25">Arc</text>
<text x="587" y="219.4" font-size="8.3" text-anchor="middle" fill="#111" font-weight="normal" stroke="#111" stroke-width="0.25">Prss23</text>
<text x="452.7" y="178.5" font-size="8.3" text-anchor="middle" fill="#111" font-weight="normal" stroke="#111" stroke-width="0.25">Gm42543</text>
<text x="445.7" y="206" font-size="8.3" text-anchor="middle" fill="#111" font-weight="normal" stroke="#111" stroke-width="0.25">Gm15239</text>
<text x="465" y="211.5" font-size="8.3" text-anchor="middle" fill="#111" font-weight="normal" stroke="#111" stroke-width="0.25">Fndc3b</text>
<text x="422.5" y="219" font-size="8.3" text-anchor="middle" fill="#111" font-weight="normal" stroke="#111" stroke-width="0.25">Tln</text>
<g stroke="#000" stroke-width="2.5" fill="none"><path d="M398.6 26 V249.6 H669.6"/></g>
<line x1="395" y1="62.25" x2="397.5" y2="62.25" stroke="#333" stroke-width="1" />
<text x="393.3" y="66.25" font-size="11.4" text-anchor="end" fill="#111" font-weight="normal" >10</text>
<line x1="395" y1="150.5" x2="397.5" y2="150.5" stroke="#333" stroke-width="1" />
<text x="393.3" y="154.5" font-size="11.4" text-anchor="end" fill="#111" font-weight="normal" >5</text>
<line x1="395" y1="238.75" x2="397.5" y2="238.75" stroke="#333" stroke-width="1" />
<text x="393.3" y="242.75" font-size="11.4" text-anchor="end" fill="#111" font-weight="normal" >0</text>
<line x1="410.6" y1="251" x2="410.6" y2="254" stroke="#333" stroke-width="1" />
<text x="408.40000000000003" y="263.5" font-size="11.4" text-anchor="middle" fill="#111" font-weight="normal" >-10</text>
<line x1="472.3" y1="251" x2="472.3" y2="254" stroke="#333" stroke-width="1" />
<text x="470.1" y="263.5" font-size="11.4" text-anchor="middle" fill="#111" font-weight="normal" >-5</text>
<line x1="534.0" y1="251" x2="534.0" y2="254" stroke="#333" stroke-width="1" />
<text x="534.0" y="263.5" font-size="11.4" text-anchor="middle" fill="#111" font-weight="normal" >0</text>
<line x1="595.7" y1="251" x2="595.7" y2="254" stroke="#333" stroke-width="1" />
<text x="595.7" y="263.5" font-size="11.4" text-anchor="middle" fill="#111" font-weight="normal" >5</text>
<line x1="657.4" y1="251" x2="657.4" y2="254" stroke="#333" stroke-width="1" />
<text x="657.4" y="263.5" font-size="11.4" text-anchor="middle" fill="#111" font-weight="normal" >10</text>
<text x="491.7" y="272.6" font-size="11.8" fill="#111">Log<tspan font-size="8" dy="2.5">2</tspan><tspan dy="-2.5"> fold change</tspan></text>
<text transform="translate(374.8 128.0) rotate(-90)" font-size="11.8" text-anchor="middle" fill="#111">Log<tspan font-size="8" dy="2.5">10</tspan><tspan dy="-2.5"> P</tspan></text>
<line x1="520.3" y1="280.8" x2="429.97999999999996" y2="280.8" stroke="#000" stroke-width="2" />
<path d="M424.7 280.8 L431.3 277.0 L431.3 284.6 Z" fill="#000"/>
<text x="409.7" y="295.4" font-size="11.9" text-anchor="start" fill="#111" font-weight="normal" >upregulated in IGHV1</text>
<line x1="555.9" y1="280.5" x2="646.32" y2="280.5" stroke="#000" stroke-width="2" />
<path d="M651.6 280.5 L645.0 276.7 L645.0 284.3 Z" fill="#000"/>
<text x="551.4" y="295.6" font-size="11.9" text-anchor="start" fill="#111" font-weight="normal" >upregulated in IGHV11</text>
<text x="13.2" y="346.2" font-size="11.95" text-anchor="start" fill="#111" font-weight="normal" >Hallmark Pathways</text>
<text x="143" y="345" font-size="11.9" text-anchor="start" fill="#111" font-weight="normal" >enriched in IGHV11</text>
<line x1="146.2" y1="350" x2="236.02" y2="350" stroke="#000" stroke-width="2" />
<path d="M241.3 350 L234.70000000000002 346.2 L234.70000000000002 353.8 Z" fill="#000"/>
<rect x="121.9" y="358.2" width="167.6" height="215.8" fill="none" stroke="#2b2b2b" stroke-width="1.8"/>
<line x1="119.3" y1="366.0" x2="121" y2="366.0" stroke="#555" stroke-width="0.7" />
<text x="117" y="369.2" font-size="8.95" text-anchor="end" fill="#111" font-weight="normal" >Oxidative Phosphorylation</text>
<circle cx="280.80" cy="366.40" r="5.85" fill="#e0105c" stroke="none" stroke-width="1" />
<line x1="119.3" y1="379.355" x2="121" y2="379.355" stroke="#555" stroke-width="0.7" />
<text x="117" y="382.555" font-size="8.95" text-anchor="end" fill="#111" font-weight="normal" >Protein Secretion</text>
<circle cx="191.30" cy="379.75" r="3.45" fill="#1a1aff" stroke="none" stroke-width="1" />
<line x1="119.3" y1="392.71" x2="121" y2="392.71" stroke="#555" stroke-width="0.7" />
<text x="117" y="395.90999999999997" font-size="8.95" text-anchor="end" fill="#111" font-weight="normal" >Adipogenesis</text>
<circle cx="184.80" cy="393.11" r="4.35" fill="#e8063e" stroke="none" stroke-width="1" />
<line x1="119.3" y1="406.065" x2="121" y2="406.065" stroke="#555" stroke-width="0.7" />
<text x="117" y="409.265" font-size="8.95" text-anchor="end" fill="#111" font-weight="normal" >Estrogen Response Late</text>
<circle cx="173.50" cy="406.46" r="3.85" fill="#d2187c" stroke="none" stroke-width="1" />
<line x1="119.3" y1="419.42" x2="121" y2="419.42" stroke="#555" stroke-width="0.7" />
<text x="117" y="422.62" font-size="8.95" text-anchor="end" fill="#111" font-weight="normal" >TNFA Signaling Via NFKB</text>
<circle cx="171.80" cy="419.82" r="4.25" fill="#ff0a10" stroke="none" stroke-width="1" />
<line x1="119.3" y1="432.775" x2="121" y2="432.775" stroke="#555" stroke-width="0.7" />
<text x="117" y="435.97499999999997" font-size="8.95" text-anchor="end" fill="#111" font-weight="normal" >Apoptosis</text>
<circle cx="165.50" cy="433.17" r="3.85" fill="#dc1466" stroke="none" stroke-width="1" />
<line x1="119.3" y1="446.13" x2="121" y2="446.13" stroke="#555" stroke-width="0.7" />
<text x="117" y="449.33" font-size="8.95" text-anchor="end" fill="#111" font-weight="normal" >UV Response Up</text>
<circle cx="164.50" cy="446.53" r="3.85" fill="#cc1888" stroke="none" stroke-width="1" />
<line x1="119.3" y1="459.485" x2="121" y2="459.485" stroke="#555" stroke-width="0.7" />
<text x="117" y="462.685" font-size="8.95" text-anchor="end" fill="#111" font-weight="normal" >Estrogen Response Early</text>
<circle cx="161.30" cy="459.88" r="3.85" fill="#d2187c" stroke="none" stroke-width="1" />
<line x1="119.3" y1="472.84000000000003" x2="121" y2="472.84000000000003" stroke="#555" stroke-width="0.7" />
<text x="117" y="476.04" font-size="8.95" text-anchor="end" fill="#111" font-weight="normal" >MTORC1signaling</text>
<circle cx="160.30" cy="473.24" r="4.25" fill="#6a12f0" stroke="none" stroke-width="1" />
<line x1="119.3" y1="486.195" x2="121" y2="486.195" stroke="#555" stroke-width="0.7" />
<text x="117" y="489.395" font-size="8.95" text-anchor="end" fill="#111" font-weight="normal" >Hypoxia</text>
<circle cx="156.30" cy="486.59" r="4.05" fill="#ff0c14" stroke="none" stroke-width="1" />
<line x1="119.3" y1="499.55" x2="121" y2="499.55" stroke="#555" stroke-width="0.7" />
<text x="117" y="502.75" font-size="8.95" text-anchor="end" fill="#111" font-weight="normal" >Myogenesis</text>
<circle cx="154.50" cy="499.95" r="3.55" fill="#ff0c18" stroke="none" stroke-width="1" />
<line x1="119.3" y1="512.905" x2="121" y2="512.905" stroke="#555" stroke-width="0.7" />
<text x="117" y="516.105" font-size="8.95" text-anchor="end" fill="#111" font-weight="normal" >P53 Pathway</text>
<circle cx="154.00" cy="513.30" r="4.05" fill="#ea1444" stroke="none" stroke-width="1" />
<line x1="119.3" y1="526.26" x2="121" y2="526.26" stroke="#555" stroke-width="0.7" />
<text x="117" y="529.46" font-size="8.95" text-anchor="end" fill="#111" font-weight="normal" >IL2 STAT5 Signaling</text>
<circle cx="149.50" cy="526.66" r="4.05" fill="#cc1888" stroke="none" stroke-width="1" />
<line x1="119.3" y1="539.615" x2="121" y2="539.615" stroke="#555" stroke-width="0.7" />
<text x="117" y="542.815" font-size="8.95" text-anchor="end" fill="#111" font-weight="normal" >Cholesterol Homeostasis</text>
<circle cx="144.00" cy="540.01" r="2.25" fill="#d01680" stroke="none" stroke-width="1" />
<line x1="119.3" y1="552.97" x2="121" y2="552.97" stroke="#555" stroke-width="0.7" />
<text x="117" y="556.1700000000001" font-size="8.95" text-anchor="end" fill="#111" font-weight="normal" >Interferon Gamma Response</text>
<circle cx="137.00" cy="553.37" r="3.75" fill="#1a1aff" stroke="none" stroke-width="1" />
<line x1="119.3" y1="566.325" x2="121" y2="566.325" stroke="#555" stroke-width="0.7" />
<text x="117" y="569.5250000000001" font-size="8.95" text-anchor="end" fill="#111" font-weight="normal" >KRAS signaling up</text>
<circle cx="128.30" cy="566.73" r="3.05" fill="#d01680" stroke="none" stroke-width="1" />
<line x1="138.6" y1="574.6" x2="138.6" y2="576.6" stroke="#777" stroke-width="0.6" />
<text x="137.9" y="585.5" font-size="12" text-anchor="middle" fill="#111" font-weight="normal" >0.2</text>
<line x1="168.79999999999998" y1="574.6" x2="168.79999999999998" y2="576.6" stroke="#777" stroke-width="0.6" />
<text x="168.1" y="585.5" font-size="12" text-anchor="middle" fill="#111" font-weight="normal" >0.3</text>
<line x1="199.0" y1="574.6" x2="199.0" y2="576.6" stroke="#777" stroke-width="0.6" />
<text x="198.3" y="585.5" font-size="12" text-anchor="middle" fill="#111" font-weight="normal" >0.4</text>
<line x1="229.2" y1="574.6" x2="229.2" y2="576.6" stroke="#777" stroke-width="0.6" />
<text x="228.5" y="585.5" font-size="12" text-anchor="middle" fill="#111" font-weight="normal" >0.5</text>
<line x1="259.4" y1="574.6" x2="259.4" y2="576.6" stroke="#777" stroke-width="0.6" />
<text x="258.7" y="585.5" font-size="12" text-anchor="middle" fill="#111" font-weight="normal" >0.6</text>
<text x="167" y="602" font-size="12" text-anchor="start" fill="#111" font-weight="normal" >Gene Ratio</text>
<text x="294.3" y="397.2" font-size="12" text-anchor="start" fill="#111" font-weight="normal" >Count</text>
<circle cx="304.50" cy="405.70" r="3.0" fill="#000" stroke="none" stroke-width="1" />
<text x="312.5" y="408.7" font-size="8.4" text-anchor="start" fill="#111" font-weight="normal" >25</text>
<circle cx="304.50" cy="415.80" r="3.75" fill="#000" stroke="none" stroke-width="1" />
<text x="312.5" y="418.8" font-size="8.4" text-anchor="start" fill="#111" font-weight="normal" >50</text>
<circle cx="304.50" cy="426.10" r="4.4" fill="#000" stroke="none" stroke-width="1" />
<text x="312.5" y="429.1" font-size="8.4" text-anchor="start" fill="#111" font-weight="normal" >75</text>
<circle cx="304.50" cy="437.10" r="4.8" fill="#000" stroke="none" stroke-width="1" />
<text x="312.5" y="440.1" font-size="8.4" text-anchor="start" fill="#111" font-weight="normal" >100</text>
<circle cx="304.50" cy="449.80" r="5.2" fill="#000" stroke="none" stroke-width="1" />
<text x="312.5" y="452.8" font-size="8.4" text-anchor="start" fill="#111" font-weight="normal" >125</text>
<text x="293" y="481.8" font-size="12" text-anchor="start" fill="#111" font-weight="normal" >p.adjust</text>
<defs><linearGradient id="pg" x1="0" y1="0" x2="0" y2="1"><stop offset="0" stop-color="#3414ff"/><stop offset="0.5" stop-color="#b0119a"/><stop offset="1" stop-color="#ff0a10"/></linearGradient></defs>
<rect x="298.3" y="485" width="9.7" height="49.5" fill="url(#pg)"/>
<line x1="306.3" y1="495" x2="308" y2="495" stroke="#fff" stroke-width="0.5" />
<line x1="298.3" y1="495" x2="300" y2="495" stroke="#fff" stroke-width="0.5" />
<text x="309.2" y="498.2" font-size="9" text-anchor="start" fill="#111" font-weight="normal" >0.04</text>
<line x1="306.3" y1="505" x2="308" y2="505" stroke="#fff" stroke-width="0.5" />
<line x1="298.3" y1="505" x2="300" y2="505" stroke="#fff" stroke-width="0.5" />
<text x="309.2" y="508.2" font-size="9" text-anchor="start" fill="#111" font-weight="normal" >0.03</text>
<line x1="306.3" y1="515.3" x2="308" y2="515.3" stroke="#fff" stroke-width="0.5" />
<line x1="298.3" y1="515.3" x2="300" y2="515.3" stroke="#fff" stroke-width="0.5" />
<text x="309.2" y="518.5" font-size="9" text-anchor="start" fill="#111" font-weight="normal" >0.02</text>
<line x1="306.3" y1="525.5" x2="308" y2="525.5" stroke="#fff" stroke-width="0.5" />
<line x1="298.3" y1="525.5" x2="300" y2="525.5" stroke="#fff" stroke-width="0.5" />
<text x="309.2" y="528.7" font-size="9" text-anchor="start" fill="#111" font-weight="normal" >0.01</text>
<text x="410.8" y="350.5" font-size="11.9" text-anchor="start" fill="#111" font-weight="normal" >upregulated in IGHV11</text>
<line x1="531" y1="361.4" x2="440.97999999999996" y2="361.4" stroke="#000" stroke-width="2" />
<path d="M435.7 361.4 L442.3 357.59999999999997 L442.3 365.2 Z" fill="#000"/>
<text x="570.3" y="350.5" font-size="11.9" text-anchor="start" fill="#111" font-weight="normal" >upregulated in IGHV1</text>
<line x1="571" y1="361.3" x2="661.72" y2="361.3" stroke="#000" stroke-width="2" />
<path d="M667 361.3 L660.4 357.5 L660.4 365.1 Z" fill="#000"/>
<text x="603.5" y="380.8" font-size="10.5" text-anchor="start" fill="#111" font-weight="normal" >p adjust</text>
<text x="650.3" y="380.8" font-size="10.5" text-anchor="start" fill="#111" font-weight="normal" >NES</text>
<text x="602" y="392" font-size="10.5" text-anchor="end" fill="#6f9ff0" font-weight="normal" >B1a DEG up</text>
<text x="602" y="404.5" font-size="10.5" text-anchor="end" fill="#7fdc7f" font-weight="normal" >IgH-TE&#956; CLL B1a up</text>
<text x="602" y="416.3" font-size="10.5" text-anchor="end" fill="#f5d070" font-weight="normal" >B2 DEG up</text>
<text x="610.3" y="392" font-size="10.5" text-anchor="start" fill="#111" font-weight="normal" >0.008</text>
<text x="648.3" y="392" font-size="10.5" text-anchor="start" fill="#111" font-weight="normal" >1.956</text>
<text x="611.3" y="404.5" font-size="10.5" text-anchor="start" fill="#111" font-weight="normal" >0.040</text>
<text x="648.0" y="404.5" font-size="10.5" text-anchor="start" fill="#111" font-weight="normal" >1.690</text>
<text x="610.3" y="416.3" font-size="10.5" text-anchor="start" fill="#111" font-weight="normal" >0.115</text>
<text x="644" y="416.3" font-size="10.5" text-anchor="start" fill="#111" font-weight="normal" >-1.531</text>
<g stroke="#000" stroke-width="2" fill="none"><path d="M429.6 385.5 V520"/></g>
<text x="424" y="394.75" font-size="10.4" text-anchor="end" fill="#111" font-weight="normal" >0.8</text>
<text x="424" y="411.55" font-size="10.4" text-anchor="end" fill="#111" font-weight="normal" >0.6</text>
<text x="424" y="428.34999999999997" font-size="10.4" text-anchor="end" fill="#111" font-weight="normal" >0.4</text>
<text x="424" y="445.15" font-size="10.4" text-anchor="end" fill="#111" font-weight="normal" >0.2</text>
<text x="424" y="461.95" font-size="10.4" text-anchor="end" fill="#111" font-weight="normal" >0.0</text>
<text x="424" y="478.75" font-size="10.4" text-anchor="end" fill="#111" font-weight="normal" >-0.2</text>
<text x="424" y="495.55" font-size="10.4" text-anchor="end" fill="#111" font-weight="normal" >-0.4</text>
<text x="424" y="512.35" font-size="10.4" text-anchor="end" fill="#111" font-weight="normal" >-0.6</text>
<text x="400" y="450.5" font-size="12" text-anchor="middle" fill="#111" font-weight="normal" transform="rotate(-90 400 450.5)">enrichment score</text>
<line x1="431" y1="459.25" x2="663" y2="459.25" stroke="#000" stroke-width="1.3" stroke-dasharray="1.3 1.85"/>
<polyline fill="none" stroke="#f0bc30" stroke-opacity="0.7" stroke-width="2.4" points="431,459.2 437,461.5 442.5,463.2 444.3,460.6 447,461.5 450.4,461.5 452,459.5 455.7,457.1 460,457.5 465.3,456.2 468,457.1 472.3,457.1 476,458 481.1,458 484,459 488.1,459.7 495.1,460.6 503.8,463.2 516.1,465.8 526.6,469.3 600,495.3 605,497 615.7,497.8 641.4,506.9 643,505.3 657.1,510.7 657.9,510.7 657.9,504.4 658.8,504.4 658.8,491.5 663.7,493.5 663.7,459.5"/>
<polyline fill="none" stroke="#45d445" stroke-opacity="0.7" stroke-width="2.4" points="431,459 432.9,458.8 434.6,449.2 436.4,437.8 438.1,425.5 439.9,416.8 442.5,415.9 444.3,414.2 446.9,408.9 450.4,407.2 453.9,403.7 458.3,404.5 462.7,406.3 467,406.3 470.5,404.5 475.8,403.7 481.1,406.3 489.8,409.8 496.8,411.2 503.8,412.4 545,425.2 600,444.8 640,454.5 655,456 663.7,459"/>
<polyline fill="none" stroke="#2878ff" stroke-opacity="0.7" stroke-width="2.5" points="431,459 432.9,458.8 432.9,399.3 434.1,394 436.4,393.1 437.3,391.4 439.9,389.6 442.5,390.9 444.3,388.8 545,422.9 612.5,445.8 663.7,462 663.7,459.5"/>
<g stroke="#000" stroke-width="2" fill="none"><path d="M430.8 536 V568.8 H662.7"/></g>
<g fill="#6f9ff0" fill-opacity="0.85">
<rect x="433.4" y="537.9" width="2.1000000000000227" height="9.300000000000068"/>
<rect x="437.6" y="537.9" width="2.2999999999999545" height="9.300000000000068"/>
<rect x="443.9" y="537.9" width="2.1000000000000227" height="9.300000000000068"/>
<rect x="472.3" y="537.9" width="1.3999999999999773" height="9.300000000000068"/>
<rect x="479" y="537.9" width="1.6999999999999886" height="9.300000000000068"/>
<rect x="484" y="537.9" width="1.3999999999999773" height="9.300000000000068"/>
<rect x="510" y="537.9" width="3.7999999999999545" height="9.300000000000068"/>
<rect x="531" y="537.9" width="1.7000000000000455" height="9.300000000000068"/>
<rect x="533.6" y="537.9" width="1.3999999999999773" height="9.300000000000068"/>
<rect x="536.2" y="537.9" width="2.699999999999932" height="9.300000000000068"/>
<rect x="540.6" y="537.9" width="1.2999999999999545" height="9.300000000000068"/>
<rect x="570" y="537.9" width="2.7000000000000455" height="9.300000000000068"/>
<rect x="573.9" y="537.9" width="2.1000000000000227" height="9.300000000000068"/>
<rect x="587.6" y="537.9" width="1.1999999999999318" height="9.300000000000068"/>
<rect x="592.3" y="537.9" width="1.8000000000000682" height="9.300000000000068"/>
<rect x="595.3" y="537.9" width="1.7000000000000455" height="9.300000000000068"/>
<rect x="605.1" y="537.9" width="1.6999999999999318" height="9.300000000000068"/>
<rect x="613" y="537.9" width="2.1000000000000227" height="9.300000000000068"/>
<rect x="623.5" y="537.9" width="1.6000000000000227" height="9.300000000000068"/>
<rect x="638.7" y="537.9" width="1.3999999999999773" height="9.300000000000068"/>
<rect x="654.8" y="537.9" width="1.8000000000000682" height="9.300000000000068"/>
<rect x="663.3" y="537.9" width="1.7000000000000455" height="9.300000000000068"/>
</g>
<g fill="#f5d070" fill-opacity="0.85">
<rect x="442.9" y="548" width="1.7000000000000455" height="9.700000000000045"/>
<rect x="450.4" y="548" width="2.3000000000000114" height="9.700000000000045"/>
<rect x="454.4" y="548" width="1.8000000000000114" height="9.700000000000045"/>
<rect x="460" y="548" width="1.8000000000000114" height="9.700000000000045"/>
<rect x="464.4" y="548" width="1.8000000000000114" height="9.700000000000045"/>
<rect x="469.7" y="548" width="1.6999999999999886" height="9.700000000000045"/>
<rect x="479" y="548" width="3.8000000000000114" height="9.700000000000045"/>
<rect x="489" y="548" width="1.6999999999999886" height="9.700000000000045"/>
<rect x="492.1" y="548" width="1.599999999999966" height="9.700000000000045"/>
<rect x="508.2" y="548" width="1.8000000000000114" height="9.700000000000045"/>
<rect x="520.5" y="548" width="1.7000000000000455" height="9.700000000000045"/>
<rect x="526.3" y="548" width="1.7000000000000455" height="9.700000000000045"/>
<rect x="535.4" y="548" width="1.7000000000000455" height="9.700000000000045"/>
<rect x="545" y="548" width="1.3999999999999773" height="9.700000000000045"/>
<rect x="548.9" y="548" width="2.2000000000000455" height="9.700000000000045"/>
<rect x="559.9" y="548" width="2.1000000000000227" height="9.700000000000045"/>
<rect x="575.1" y="548" width="2.0" height="9.700000000000045"/>
<rect x="592.7" y="548" width="1.8999999999999773" height="9.700000000000045"/>
<rect x="606" y="548" width="2.1000000000000227" height="9.700000000000045"/>
<rect x="611.6" y="548" width="4.899999999999977" height="9.700000000000045"/>
<rect x="641.7" y="548" width="1.8999999999999773" height="9.700000000000045"/>
<rect x="656.8" y="548" width="4.2000000000000455" height="9.700000000000045"/>
<rect x="663" y="548" width="2" height="9.700000000000045"/>
</g>
<g fill="#7fdc7f" fill-opacity="0.85">
<rect x="432.9" y="558" width="8.200000000000045" height="9.299999999999955"/>
<rect x="443.4" y="558" width="5.300000000000011" height="9.299999999999955"/>
<rect x="450.4" y="558" width="4.7000000000000455" height="9.299999999999955"/>
<rect x="457.4" y="558" width="1.8000000000000114" height="9.299999999999955"/>
<rect x="463.5" y="558" width="2.1000000000000227" height="9.299999999999955"/>
<rect x="467" y="558" width="5.699999999999989" height="9.299999999999955"/>
<rect x="473.7" y="558" width="3.5" height="9.299999999999955"/>
<rect x="490.7" y="558" width="1.6999999999999886" height="9.299999999999955"/>
<rect x="496.8" y="558" width="1.8000000000000114" height="9.299999999999955"/>
<rect x="499.5" y="558" width="1.6999999999999886" height="9.299999999999955"/>
<rect x="502.1" y="558" width="1.6999999999999886" height="9.299999999999955"/>
<rect x="505.9" y="558" width="1.8000000000000114" height="9.299999999999955"/>
<rect x="516.1" y="558" width="1.7999999999999545" height="9.299999999999955"/>
<rect x="524.9" y="558" width="2.1000000000000227" height="9.299999999999955"/>
<rect x="527.5" y="558" width="4.399999999999977" height="9.299999999999955"/>
<rect x="537.1" y="558" width="1.7999999999999545" height="9.299999999999955"/>
<rect x="539.8" y="558" width="1.7000000000000455" height="9.299999999999955"/>
<rect x="545" y="558" width="2.6000000000000227" height="9.299999999999955"/>
<rect x="552.9" y="558" width="3.0" height="9.299999999999955"/>
<rect x="567.8" y="558" width="2.1000000000000227" height="9.299999999999955"/>
<rect x="578.8" y="558" width="4.400000000000091" height="9.299999999999955"/>
<rect x="588.8" y="558" width="2.1000000000000227" height="9.299999999999955"/>
<rect x="601.9" y="558" width="2.7000000000000455" height="9.299999999999955"/>
<rect x="611.9" y="558" width="3.5" height="9.299999999999955"/>
<rect x="618.2" y="558" width="1.7999999999999545" height="9.299999999999955"/>
<rect x="637" y="558" width="2.1000000000000227" height="9.299999999999955"/>
<rect x="644.9" y="558" width="2.1000000000000227" height="9.299999999999955"/>
<rect x="651" y="558" width="1.7000000000000455" height="9.299999999999955"/>
</g>
<line x1="432.5" y1="569.8" x2="432.5" y2="572.5" stroke="#333" stroke-width="0.8" />
<text x="433.5" y="582" font-size="10.4" text-anchor="middle" fill="#111" font-weight="normal" >0</text>
<line x1="509.5" y1="569.8" x2="509.5" y2="572.5" stroke="#333" stroke-width="0.8" />
<text x="510.5" y="582" font-size="10.4" text-anchor="middle" fill="#111" font-weight="normal" >5000</text>
<line x1="586.5" y1="569.8" x2="586.5" y2="572.5" stroke="#333" stroke-width="0.8" />
<text x="587.5" y="582" font-size="10.4" text-anchor="middle" fill="#111" font-weight="normal" >10000</text>
<line x1="663.5" y1="569.8" x2="663.5" y2="572.5" stroke="#333" stroke-width="0.8" />
<text x="664.5" y="582" font-size="10.4" text-anchor="middle" fill="#111" font-weight="normal" >15000</text>
<text x="543.8" y="595.8" font-size="10.4" text-anchor="start" fill="#111" font-weight="normal" >rank</text>
</svg></body></html>
